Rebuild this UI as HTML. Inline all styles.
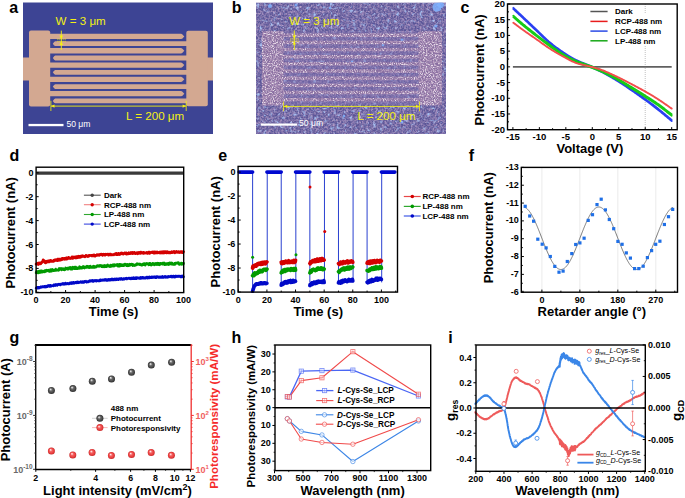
<!DOCTYPE html>
<html><head><meta charset="utf-8"><style>
html,body{margin:0;padding:0;background:#fff;overflow:hidden;}
svg{display:block;font-family:"Liberation Sans", sans-serif;}
</style></head><body>
<svg width="685" height="498" viewBox="0 0 685 498">
<rect width="685" height="498" fill="#fff"/>
<text x="9.30" y="13.20" font-size="16" font-weight="bold" text-anchor="start" fill="#000" >a</text>
<text x="231.80" y="13.10" font-size="16" font-weight="bold" text-anchor="start" fill="#000" >b</text>
<text x="460.50" y="12.50" font-size="16" font-weight="bold" text-anchor="start" fill="#000" >c</text>
<text x="9.50" y="161.40" font-size="16" font-weight="bold" text-anchor="start" fill="#000" >d</text>
<text x="218.20" y="161.30" font-size="16" font-weight="bold" text-anchor="start" fill="#000" >e</text>
<text x="468.70" y="161.10" font-size="16" font-weight="bold" text-anchor="start" fill="#000" >f</text>
<text x="9.40" y="342.50" font-size="16" font-weight="bold" text-anchor="start" fill="#000" >g</text>
<text x="231.60" y="342.80" font-size="16" font-weight="bold" text-anchor="start" fill="#000" >h</text>
<text x="448.30" y="342.80" font-size="16" font-weight="bold" text-anchor="start" fill="#000" >i</text>
<g>
<rect x="23.00" y="2.50" width="190.00" height="131.50" fill="#3d4494" />
<rect x="23.00" y="57.50" width="7.00" height="23.00" fill="#d3a891" />
<rect x="206.00" y="57.50" width="7.00" height="23.00" fill="#d3a891" />
<rect x="29.00" y="30.50" width="21.20" height="76.00" fill="#d3a891" rx="2"/>
<rect x="186.30" y="30.80" width="21.50" height="75.50" fill="#d3a891" rx="2"/>
<path d="M49,33.80 H181.2 Q182.2,34.00 184.3,36.45 Q182.2,38.90 181.2,39.10 H49 Z" fill="#d3a891"/>
<path d="M49,48.10 H181.2 Q182.2,48.30 184.3,50.75 Q182.2,53.20 181.2,53.40 H49 Z" fill="#d3a891"/>
<path d="M49,62.40 H181.2 Q182.2,62.60 184.3,65.05 Q182.2,67.50 181.2,67.70 H49 Z" fill="#d3a891"/>
<path d="M49,76.70 H181.2 Q182.2,76.90 184.3,79.35 Q182.2,81.80 181.2,82.00 H49 Z" fill="#d3a891"/>
<path d="M49,91.00 H181.2 Q182.2,91.20 184.3,93.65 Q182.2,96.10 181.2,96.30 H49 Z" fill="#d3a891"/>
<path d="M188,41.30 H55.2 Q54.2,41.50 52.8,43.70 Q54.2,45.90 55.2,46.10 H188 Z" fill="#d3a891"/>
<path d="M188,55.60 H55.2 Q54.2,55.80 52.8,58.00 Q54.2,60.20 55.2,60.40 H188 Z" fill="#d3a891"/>
<path d="M188,69.90 H55.2 Q54.2,70.10 52.8,72.30 Q54.2,74.50 55.2,74.70 H188 Z" fill="#d3a891"/>
<path d="M188,84.20 H55.2 Q54.2,84.40 52.8,86.60 Q54.2,88.80 55.2,89.00 H188 Z" fill="#d3a891"/>
<path d="M188,98.50 H55.2 Q54.2,98.70 52.8,100.90 Q54.2,103.10 55.2,103.30 H188 Z" fill="#d3a891"/>
<line x1="61.30" y1="30.60" x2="61.30" y2="50.00" stroke="#f4f014" stroke-width="0.9" />
<path d="M59.4,35.6 L61.3,39.2 L63.2,35.6 Z" fill="#f4f014"/>
<path d="M59.4,44.9 L61.3,41.3 L63.2,44.9 Z" fill="#f4f014"/>
<line x1="57.00" y1="39.20" x2="66.00" y2="39.20" stroke="#f4f014" stroke-width="0.6" stroke-dasharray="1.6,0.4"/>
<line x1="57.00" y1="41.30" x2="66.00" y2="41.30" stroke="#f4f014" stroke-width="0.6" stroke-dasharray="1.6,0.4"/>
<text x="55.60" y="24.50" font-size="11.6" font-weight="normal" text-anchor="start" fill="#f4f014" >W = 3 μm</text>
<line x1="51.00" y1="106.10" x2="186.20" y2="106.10" stroke="#f4f014" stroke-width="0.9" />
<line x1="50.90" y1="100.80" x2="50.90" y2="111.00" stroke="#f4f014" stroke-width="0.8" />
<line x1="186.20" y1="100.80" x2="186.20" y2="111.00" stroke="#f4f014" stroke-width="0.8" />
<path d="M51,106.1 L54.5,104.4 L54.5,107.8 Z" fill="#f4f014"/>
<path d="M186.1,106.1 L182.6,104.4 L182.6,107.8 Z" fill="#f4f014"/>
<text x="126.00" y="119.80" font-size="11.6" font-weight="normal" text-anchor="start" fill="#f4f014" >L = 200 μm</text>
<rect x="28.50" y="123.90" width="35.00" height="2.30" fill="#fff" />
<text x="66.40" y="126.80" font-size="8.6" font-weight="normal" text-anchor="start" fill="#fff" >50 μm</text>
</g>
<defs>
<filter id="spk" x="0" y="0" width="100%" height="100%">
<feTurbulence type="fractalNoise" baseFrequency="0.9" numOctaves="1" seed="3" result="t"/>
<feColorMatrix in="t" type="matrix" values="0 0 0 0 1  0 0 0 0 1  0 0 0 0 1  5 0 0 0 -2.55" result="w"/>
<feComposite in="w" in2="SourceGraphic" operator="in"/>
</filter>
<filter id="spk2" x="0" y="0" width="100%" height="100%">
<feTurbulence type="fractalNoise" baseFrequency="0.8" numOctaves="1" seed="8" result="t"/>
<feColorMatrix in="t" type="matrix" values="0 0 0 0 1  0 0 0 0 1  0 0 0 0 1  0 5 0 0 -2.75" result="w"/>
<feComposite in="w" in2="SourceGraphic" operator="in"/>
</filter>
<filter id="blu" x="0" y="0" width="100%" height="100%">
<feTurbulence type="fractalNoise" baseFrequency="0.3" numOctaves="2" seed="11" result="t"/>
<feColorMatrix in="t" type="matrix" values="0 0 0 0 0.42  0 0 0 0 0.62  0 0 0 0 1  0 4 0 0 -2.3" result="w"/>
<feComposite in="w" in2="SourceGraphic" operator="in"/>
</filter>
<filter id="drk" x="0" y="0" width="100%" height="100%">
<feTurbulence type="fractalNoise" baseFrequency="0.45" numOctaves="2" seed="21" result="t"/>
<feColorMatrix in="t" type="matrix" values="0 0 0 0 0.35  0 0 0 0 0.25  0 0 0 0 0.5  0 0 3 0 -1.35" result="w"/>
<feComposite in="w" in2="SourceGraphic" operator="in"/>
</filter>
<filter id="pnk" x="0" y="0" width="100%" height="100%">
<feTurbulence type="fractalNoise" baseFrequency="0.6" numOctaves="1" seed="5" result="t"/>
<feColorMatrix in="t" type="matrix" values="0 0 0 0 0.72  0 0 0 0 0.52  0 0 0 0 0.68  3 0 0 0 -1.2" result="w"/>
<feComposite in="w" in2="SourceGraphic" operator="in"/>
</filter>
<clipPath id="cb"><rect x="256" y="2.5" width="190" height="131.5"/></clipPath>
<clipPath id="cel"><rect x="262" y="31.3" width="21.5" height="74"/><rect x="418.5" y="31.3" width="23.5" height="74"/><rect x="283" y="33.60" width="136" height="3.4"/><rect x="283" y="40.75" width="136" height="3.4"/><rect x="283" y="47.90" width="136" height="3.4"/><rect x="283" y="55.05" width="136" height="3.4"/><rect x="283" y="62.20" width="136" height="3.4"/><rect x="283" y="69.35" width="136" height="3.4"/><rect x="283" y="76.50" width="136" height="3.4"/><rect x="283" y="83.65" width="136" height="3.4"/><rect x="283" y="90.80" width="136" height="3.4"/><rect x="283" y="97.95" width="136" height="3.4"/></clipPath>
</defs>
<g clip-path="url(#cb)">
<rect x="256.00" y="2.50" width="190.00" height="131.50" fill="#5a5598" />
<rect x="256.00" y="2.50" width="190.00" height="131.50" fill="#fff" filter="url(#drk)" opacity="0.9"/>
<rect x="256.00" y="2.50" width="190.00" height="131.50" fill="#fff" filter="url(#pnk)" opacity="0.38"/>
<rect x="256.00" y="2.50" width="190.00" height="131.50" fill="#fff" filter="url(#blu)" opacity="0.85"/>
<rect x="256.00" y="2.50" width="190.00" height="131.50" fill="#fff" filter="url(#spk2)" opacity="0.2"/>
<rect x="283.00" y="31.50" width="136.00" height="73.50" fill="#8272ae" opacity="0.45"/>
<circle cx="437" cy="7" r="4.5" fill="#7fb2ff" opacity="0.85"/>
<circle cx="441" cy="5" r="3" fill="#7fb2ff" opacity="0.85"/>
<circle cx="270" cy="6" r="2" fill="#7fb2ff" opacity="0.85"/>
<circle cx="296" cy="5" r="1.5" fill="#7fb2ff" opacity="0.85"/>
<circle cx="330" cy="8" r="1.2" fill="#7fb2ff" opacity="0.85"/>
<circle cx="383" cy="45" r="1.3" fill="#7fb2ff" opacity="0.85"/>
<circle cx="402" cy="40" r="1.5" fill="#7fb2ff" opacity="0.85"/>
<circle cx="352" cy="62" r="1.2" fill="#7fb2ff" opacity="0.85"/>
<circle cx="292" cy="58" r="1.4" fill="#7fb2ff" opacity="0.85"/>
<circle cx="402" cy="122" r="1.5" fill="#7fb2ff" opacity="0.85"/>
<circle cx="344" cy="116" r="1.2" fill="#7fb2ff" opacity="0.85"/>
<circle cx="276" cy="100" r="1.2" fill="#7fb2ff" opacity="0.85"/>
<circle cx="436" cy="26" r="1.5" fill="#7fb2ff" opacity="0.85"/>
<circle cx="425" cy="58" r="1.3" fill="#7fb2ff" opacity="0.85"/>
<g clip-path="url(#cel)">
<rect x="256.00" y="2.50" width="190.00" height="131.50" fill="#8a70a2" />
<rect x="256.00" y="2.50" width="190.00" height="131.50" fill="#fff" filter="url(#spk)" opacity="0.8"/>
<rect x="256.00" y="2.50" width="190.00" height="131.50" fill="#fff" filter="url(#pnk)" opacity="0.6"/>
</g>
</g>
<line x1="294.30" y1="30.50" x2="294.30" y2="50.00" stroke="#f4f014" stroke-width="0.9" />
<path d="M292.6,35.6 L294.3,39 L296,35.6 Z" fill="#f4f014"/>
<path d="M292.6,44.6 L294.3,41.2 L296,44.6 Z" fill="#f4f014"/>
<line x1="290.00" y1="39.00" x2="299.00" y2="39.00" stroke="#f4f014" stroke-width="0.6" stroke-dasharray="1.6,0.4"/>
<line x1="290.00" y1="41.20" x2="299.00" y2="41.20" stroke="#f4f014" stroke-width="0.6" stroke-dasharray="1.6,0.4"/>
<text x="289.20" y="24.60" font-size="11.6" font-weight="normal" text-anchor="start" fill="#f4f014" >W = 3 μm</text>
<line x1="283.60" y1="106.40" x2="419.50" y2="106.40" stroke="#f4f014" stroke-width="0.9" />
<line x1="283.60" y1="101.50" x2="283.60" y2="111.20" stroke="#f4f014" stroke-width="0.8" />
<line x1="419.50" y1="101.50" x2="419.50" y2="111.20" stroke="#f4f014" stroke-width="0.8" />
<path d="M283.7,106.4 L287.2,104.7 L287.2,108.1 Z" fill="#f4f014"/>
<path d="M419.4,106.4 L415.9,104.7 L415.9,108.1 Z" fill="#f4f014"/>
<text x="357.40" y="119.90" font-size="11.6" font-weight="normal" text-anchor="start" fill="#f4f014" >L = 200 μm</text>
<rect x="260.70" y="123.50" width="36.40" height="2.20" fill="#fff" />
<text x="299.00" y="126.40" font-size="8.6" font-weight="normal" text-anchor="start" fill="#fff" >50 μm</text>
<line x1="645.23" y1="4.00" x2="645.23" y2="129.70" stroke="#b0b0b0" stroke-width="0.8" stroke-dasharray="1,1"/>
<rect x="586.00" y="13.00" width="86.00" height="33.00" fill="#fff" />
<line x1="512.90" y1="66.85" x2="671.69" y2="66.85" stroke="#606060" stroke-width="1.6" />
<polyline points="513.30,9.00 513.79,9.46 514.26,9.91 514.74,10.35 515.21,10.79 515.67,11.22 516.13,11.66 516.59,12.09 517.06,12.52 517.52,12.96 517.99,13.39 518.46,13.84 518.94,14.28 519.42,14.74 519.91,15.20 520.41,15.67 520.92,16.15 521.45,16.64 521.98,17.15 522.53,17.67 523.10,18.20 523.68,18.75 524.28,19.32 524.90,19.90 525.52,20.49 526.16,21.10 526.81,21.71 527.47,22.33 528.14,22.97 528.81,23.61 529.49,24.25 530.18,24.90 530.86,25.55 531.55,26.20 532.24,26.85 532.93,27.50 533.61,28.15 534.29,28.80 534.97,29.44 535.64,30.07 536.30,30.70 536.96,31.33 537.61,31.96 538.27,32.59 538.92,33.23 539.58,33.87 540.23,34.51 540.89,35.15 541.54,35.79 542.20,36.43 542.85,37.06 543.50,37.70 544.16,38.32 544.81,38.95 545.47,39.57 546.12,40.18 546.78,40.78 547.43,41.38 548.09,41.96 548.74,42.54 549.40,43.10 550.06,43.65 550.72,44.20 551.38,44.74 552.04,45.27 552.70,45.80 553.36,46.32 554.02,46.83 554.68,47.34 555.34,47.84 556.00,48.33 556.66,48.82 557.32,49.30 557.98,49.78 558.64,50.26 559.30,50.72 559.96,51.19 560.62,51.65 561.28,52.10 561.94,52.55 562.60,53.00 563.25,53.44 563.90,53.88 564.54,54.30 565.18,54.73 565.81,55.14 566.44,55.55 567.07,55.96 567.70,56.36 568.33,56.75 568.96,57.14 569.60,57.53 570.24,57.92 570.89,58.30 571.55,58.67 572.21,59.05 572.88,59.42 573.57,59.79 574.26,60.16 574.98,60.53 575.70,60.90 576.45,61.27 577.22,61.63 578.01,62.00 578.82,62.36 579.65,62.72 580.49,63.07 581.34,63.43 582.20,63.78 583.06,64.13 583.92,64.48 584.78,64.82 585.63,65.16 586.48,65.49 587.31,65.82 588.13,66.15 588.93,66.47 589.71,66.78 590.47,67.09 591.20,67.40 591.90,67.70 592.57,67.99 593.21,68.27 593.83,68.53 594.43,68.79 595.00,69.04 595.56,69.28 596.11,69.51 596.64,69.74 597.17,69.97 597.69,70.20 598.20,70.43 598.72,70.66 599.23,70.90 599.75,71.14 600.28,71.39 600.81,71.65 601.36,71.92 601.92,72.20 602.50,72.49 603.10,72.80 603.71,73.12 604.34,73.45 604.97,73.80 605.61,74.15 606.26,74.50 606.92,74.87 607.58,75.24 608.24,75.62 608.91,76.00 609.58,76.39 610.26,76.78 610.93,77.18 611.61,77.57 612.28,77.98 612.96,78.38 613.63,78.78 614.31,79.19 614.98,79.59 615.64,80.00 616.30,80.40 616.95,80.80 617.60,81.20 618.24,81.60 618.88,82.00 619.52,82.40 620.15,82.80 620.78,83.20 621.42,83.61 622.05,84.01 622.69,84.43 623.33,84.84 623.97,85.26 624.62,85.69 625.27,86.12 625.94,86.56 626.61,87.01 627.29,87.47 627.98,87.94 628.68,88.41 629.40,88.90 630.13,89.40 630.88,89.92 631.65,90.45 632.43,90.99 633.22,91.54 634.03,92.10 634.84,92.67 635.66,93.25 636.48,93.83 637.30,94.41 638.12,95.00 638.94,95.58 639.76,96.17 640.57,96.75 641.38,97.33 642.17,97.90 642.95,98.46 643.72,99.02 644.47,99.57 645.20,100.10 645.92,100.62 646.62,101.14 647.31,101.64 647.99,102.14 648.66,102.64 649.32,103.13 649.97,103.61 650.62,104.10 651.26,104.58 651.90,105.06 652.53,105.54 653.17,106.02 653.80,106.50 654.43,106.98 655.07,107.47 655.70,107.96 656.34,108.46 656.99,108.97 657.64,109.48 658.30,110.00 658.96,110.53 659.63,111.06 660.29,111.60 660.96,112.14 661.63,112.69 662.30,113.24 662.97,113.80 663.64,114.35 664.31,114.91 664.98,115.48 665.65,116.04 666.33,116.60 667.00,117.17 667.67,117.73 668.34,118.30 669.02,118.86 669.69,119.42 670.36,119.98 671.03,120.54 671.70,121.10" fill="none" stroke="#2a40f2" stroke-width="1.8" stroke-linejoin="round" stroke-linecap="round" stroke-linecap="butt"/>
<polyline points="513.30,7.80 513.79,8.26 514.26,8.71 514.74,9.15 515.21,9.59 515.67,10.02 516.13,10.46 516.59,10.89 517.06,11.32 517.52,11.76 517.99,12.19 518.46,12.64 518.94,13.08 519.42,13.54 519.91,14.00 520.41,14.47 520.92,14.95 521.45,15.44 521.98,15.95 522.53,16.47 523.10,17.00 523.68,17.55 524.28,18.12 524.90,18.70 525.52,19.29 526.16,19.90 526.81,20.51 527.47,21.13 528.14,21.77 528.81,22.41 529.49,23.05 530.18,23.70 530.86,24.35 531.55,25.00 532.24,25.65 532.93,26.30 533.61,26.95 534.29,27.60 534.97,28.24 535.64,28.87 536.30,29.50 536.96,30.13 537.61,30.76 538.27,31.39 538.92,32.03 539.58,32.67 540.23,33.31 540.89,33.95 541.54,34.59 542.20,35.23 542.85,35.86 543.50,36.50 544.16,37.12 544.81,37.75 545.47,38.37 546.12,38.98 546.78,39.58 547.43,40.18 548.09,40.76 548.74,41.34 549.40,41.90 550.06,42.45 550.72,43.00 551.38,43.54 552.04,44.07 552.70,44.60 553.36,45.12 554.02,45.63 554.68,46.14 555.34,46.64 556.00,47.13 556.66,47.62 557.32,48.10 557.98,48.58 558.64,49.06 559.30,49.52 559.96,49.99 560.62,50.45 561.28,50.90 561.94,51.35 562.60,51.80 563.25,52.24 563.90,52.68 564.54,53.10 565.18,53.53 565.81,53.94 566.44,54.35 567.07,54.76 567.70,55.16 568.33,55.55 568.96,55.94 569.60,56.33 570.24,56.72 570.89,57.10 571.55,57.47 572.21,57.85 572.88,58.22 573.57,58.59 574.26,58.96 574.98,59.33 575.70,59.70 576.45,60.07 577.22,60.43 578.01,60.80 578.82,61.16 579.65,61.52 580.49,61.87 581.34,62.23 582.20,62.58 583.06,62.93 583.92,63.27 584.78,63.62 585.63,63.96 586.48,64.29 587.31,64.62 588.13,64.95 588.93,65.27 589.71,65.58 590.47,65.89 591.20,66.20 591.90,66.50 592.57,66.79 593.21,67.07 593.83,67.33 594.43,67.59 595.00,67.84 595.56,68.08 596.11,68.31 596.64,68.54 597.17,68.77 597.69,69.00 598.20,69.23 598.72,69.46 599.23,69.70 599.75,69.94 600.28,70.19 600.81,70.45 601.36,70.72 601.92,71.00 602.50,71.29 603.10,71.60 603.71,71.92 604.34,72.25 604.97,72.60 605.61,72.95 606.26,73.30 606.92,73.67 607.58,74.04 608.24,74.42 608.91,74.80 609.58,75.19 610.26,75.58 610.93,75.98 611.61,76.37 612.28,76.78 612.96,77.18 613.63,77.58 614.31,77.99 614.98,78.39 615.64,78.80 616.30,79.20 616.95,79.60 617.60,80.00 618.24,80.40 618.88,80.80 619.52,81.20 620.15,81.60 620.78,82.00 621.42,82.41 622.05,82.81 622.69,83.23 623.33,83.64 623.97,84.06 624.62,84.49 625.27,84.92 625.94,85.36 626.61,85.81 627.29,86.27 627.98,86.74 628.68,87.21 629.40,87.70 630.13,88.20 630.88,88.72 631.65,89.25 632.43,89.79 633.22,90.34 634.03,90.90 634.84,91.47 635.66,92.05 636.48,92.63 637.30,93.21 638.12,93.80 638.94,94.38 639.76,94.97 640.57,95.55 641.38,96.13 642.17,96.70 642.95,97.26 643.72,97.82 644.47,98.37 645.20,98.90 645.92,99.42 646.62,99.94 647.31,100.44 647.99,100.94 648.66,101.44 649.32,101.93 649.97,102.41 650.62,102.90 651.26,103.38 651.90,103.86 652.53,104.34 653.17,104.82 653.80,105.30 654.43,105.78 655.07,106.27 655.70,106.76 656.34,107.26 656.99,107.77 657.64,108.28 658.30,108.80 658.96,109.33 659.63,109.86 660.29,110.40 660.96,110.94 661.63,111.49 662.30,112.04 662.97,112.60 663.64,113.15 664.31,113.71 664.98,114.27 665.65,114.84 666.33,115.40 667.00,115.97 667.67,116.53 668.34,117.10 669.02,117.66 669.69,118.22 670.36,118.78 671.03,119.34 671.70,119.90" fill="none" stroke="#2a40f2" stroke-width="1.8" stroke-linejoin="round" stroke-linecap="round" stroke-linecap="butt"/>
<polyline points="513.30,17.10 513.79,17.52 514.26,17.94 514.74,18.36 515.21,18.77 515.67,19.18 516.13,19.59 516.59,20.00 517.06,20.40 517.52,20.81 517.99,21.22 518.46,21.64 518.94,22.06 519.42,22.48 519.91,22.90 520.41,23.33 520.92,23.77 521.45,24.22 521.98,24.67 522.53,25.13 523.10,25.60 523.68,26.08 524.28,26.57 524.90,27.07 525.52,27.58 526.16,28.10 526.81,28.62 527.47,29.15 528.14,29.68 528.81,30.22 529.49,30.76 530.18,31.30 530.86,31.85 531.55,32.39 532.24,32.93 532.93,33.47 533.61,34.01 534.29,34.54 534.97,35.07 535.64,35.59 536.30,36.10 536.96,36.61 537.61,37.12 538.27,37.62 538.92,38.13 539.58,38.63 540.23,39.14 540.89,39.64 541.54,40.14 542.20,40.63 542.85,41.13 543.50,41.63 544.16,42.12 544.81,42.61 545.47,43.10 546.12,43.59 546.78,44.07 547.43,44.56 548.09,45.04 548.74,45.52 549.40,46.00 550.06,46.48 550.72,46.96 551.38,47.44 552.04,47.92 552.70,48.40 553.36,48.88 554.02,49.36 554.68,49.84 555.34,50.32 556.00,50.79 556.66,51.26 557.32,51.72 557.98,52.18 558.64,52.63 559.30,53.08 559.96,53.52 560.62,53.95 561.28,54.38 561.94,54.79 562.60,55.20 563.25,55.60 563.90,55.99 564.54,56.37 565.18,56.74 565.81,57.11 566.44,57.47 567.07,57.83 567.70,58.18 568.33,58.52 568.96,58.86 569.60,59.20 570.24,59.53 570.89,59.86 571.55,60.18 572.21,60.51 572.88,60.83 573.57,61.15 574.26,61.46 574.98,61.78 575.70,62.10 576.45,62.42 577.22,62.73 578.01,63.04 578.82,63.35 579.65,63.66 580.49,63.96 581.34,64.26 582.20,64.56 583.06,64.85 583.92,65.14 584.78,65.43 585.63,65.72 586.48,66.00 587.31,66.28 588.13,66.56 588.93,66.83 589.71,67.11 590.47,67.37 591.20,67.64 591.90,67.90 592.57,68.15 593.21,68.40 593.83,68.63 594.43,68.86 595.00,69.08 595.56,69.30 596.11,69.51 596.64,69.72 597.17,69.93 597.69,70.14 598.20,70.35 598.72,70.56 599.23,70.78 599.75,71.00 600.28,71.22 600.81,71.46 601.36,71.70 601.92,71.96 602.50,72.22 603.10,72.50 603.71,72.79 604.34,73.09 604.97,73.39 605.61,73.70 606.26,74.02 606.92,74.34 607.58,74.67 608.24,75.01 608.91,75.35 609.58,75.69 610.26,76.04 610.93,76.40 611.61,76.75 612.28,77.11 612.96,77.47 613.63,77.83 614.31,78.20 614.98,78.57 615.64,78.93 616.30,79.30 616.95,79.67 617.60,80.04 618.24,80.41 618.88,80.78 619.52,81.15 620.15,81.53 620.78,81.91 621.42,82.29 622.05,82.67 622.69,83.06 623.33,83.45 623.97,83.85 624.62,84.25 625.27,84.66 625.94,85.07 626.61,85.48 627.29,85.90 627.98,86.33 628.68,86.76 629.40,87.20 630.13,87.65 630.88,88.11 631.65,88.58 632.43,89.06 633.22,89.54 634.03,90.04 634.84,90.54 635.66,91.04 636.48,91.55 637.30,92.06 638.12,92.57 638.94,93.08 639.76,93.58 640.57,94.09 641.38,94.59 642.17,95.09 642.95,95.58 643.72,96.06 644.47,96.53 645.20,97.00 645.92,97.46 646.62,97.90 647.31,98.34 647.99,98.77 648.66,99.20 649.32,99.62 649.97,100.04 650.62,100.45 651.26,100.86 651.90,101.27 652.53,101.69 653.17,102.10 653.80,102.52 654.43,102.94 655.07,103.37 655.70,103.80 656.34,104.23 656.99,104.68 657.64,105.14 658.30,105.60 658.96,106.07 659.63,106.56 660.29,107.04 660.96,107.54 661.63,108.04 662.30,108.54 662.97,109.05 663.64,109.56 664.31,110.08 664.98,110.60 665.65,111.12 666.33,111.64 667.00,112.17 667.67,112.69 668.34,113.21 669.02,113.73 669.69,114.25 670.36,114.77 671.03,115.29 671.70,115.80" fill="none" stroke="#16cc16" stroke-width="1.8" stroke-linejoin="round" stroke-linecap="round" stroke-linecap="butt"/>
<polyline points="513.30,15.60 513.79,16.02 514.26,16.44 514.74,16.86 515.21,17.27 515.67,17.68 516.13,18.09 516.59,18.50 517.06,18.90 517.52,19.31 517.99,19.72 518.46,20.14 518.94,20.56 519.42,20.98 519.91,21.40 520.41,21.83 520.92,22.27 521.45,22.72 521.98,23.17 522.53,23.63 523.10,24.10 523.68,24.58 524.28,25.07 524.90,25.57 525.52,26.08 526.16,26.60 526.81,27.12 527.47,27.65 528.14,28.18 528.81,28.72 529.49,29.26 530.18,29.80 530.86,30.35 531.55,30.89 532.24,31.43 532.93,31.97 533.61,32.51 534.29,33.04 534.97,33.57 535.64,34.09 536.30,34.60 536.96,35.11 537.61,35.62 538.27,36.12 538.92,36.63 539.58,37.13 540.23,37.64 540.89,38.14 541.54,38.64 542.20,39.13 542.85,39.63 543.50,40.13 544.16,40.62 544.81,41.11 545.47,41.60 546.12,42.09 546.78,42.57 547.43,43.06 548.09,43.54 548.74,44.02 549.40,44.50 550.06,44.98 550.72,45.46 551.38,45.94 552.04,46.42 552.70,46.90 553.36,47.38 554.02,47.86 554.68,48.34 555.34,48.82 556.00,49.29 556.66,49.76 557.32,50.22 557.98,50.68 558.64,51.13 559.30,51.58 559.96,52.02 560.62,52.45 561.28,52.88 561.94,53.29 562.60,53.70 563.25,54.10 563.90,54.49 564.54,54.87 565.18,55.24 565.81,55.61 566.44,55.97 567.07,56.33 567.70,56.68 568.33,57.02 568.96,57.36 569.60,57.70 570.24,58.03 570.89,58.36 571.55,58.68 572.21,59.01 572.88,59.33 573.57,59.65 574.26,59.96 574.98,60.28 575.70,60.60 576.45,60.92 577.22,61.23 578.01,61.54 578.82,61.85 579.65,62.16 580.49,62.46 581.34,62.76 582.20,63.06 583.06,63.35 583.92,63.64 584.78,63.93 585.63,64.22 586.48,64.50 587.31,64.78 588.13,65.06 588.93,65.33 589.71,65.61 590.47,65.87 591.20,66.14 591.90,66.40 592.57,66.65 593.21,66.90 593.83,67.13 594.43,67.36 595.00,67.58 595.56,67.80 596.11,68.01 596.64,68.22 597.17,68.43 597.69,68.64 598.20,68.85 598.72,69.06 599.23,69.28 599.75,69.50 600.28,69.72 600.81,69.96 601.36,70.20 601.92,70.46 602.50,70.72 603.10,71.00 603.71,71.29 604.34,71.59 604.97,71.89 605.61,72.20 606.26,72.52 606.92,72.84 607.58,73.17 608.24,73.51 608.91,73.85 609.58,74.19 610.26,74.54 610.93,74.90 611.61,75.25 612.28,75.61 612.96,75.97 613.63,76.33 614.31,76.70 614.98,77.07 615.64,77.43 616.30,77.80 616.95,78.17 617.60,78.54 618.24,78.91 618.88,79.28 619.52,79.65 620.15,80.03 620.78,80.41 621.42,80.79 622.05,81.17 622.69,81.56 623.33,81.95 623.97,82.35 624.62,82.75 625.27,83.16 625.94,83.57 626.61,83.98 627.29,84.40 627.98,84.83 628.68,85.26 629.40,85.70 630.13,86.15 630.88,86.61 631.65,87.08 632.43,87.56 633.22,88.04 634.03,88.54 634.84,89.04 635.66,89.54 636.48,90.05 637.30,90.56 638.12,91.07 638.94,91.58 639.76,92.08 640.57,92.59 641.38,93.09 642.17,93.59 642.95,94.08 643.72,94.56 644.47,95.03 645.20,95.50 645.92,95.96 646.62,96.40 647.31,96.84 647.99,97.27 648.66,97.70 649.32,98.12 649.97,98.54 650.62,98.95 651.26,99.36 651.90,99.77 652.53,100.19 653.17,100.60 653.80,101.02 654.43,101.44 655.07,101.87 655.70,102.30 656.34,102.73 656.99,103.18 657.64,103.64 658.30,104.10 658.96,104.57 659.63,105.06 660.29,105.54 660.96,106.04 661.63,106.54 662.30,107.04 662.97,107.55 663.64,108.06 664.31,108.58 664.98,109.10 665.65,109.62 666.33,110.14 667.00,110.67 667.67,111.19 668.34,111.71 669.02,112.23 669.69,112.75 670.36,113.27 671.03,113.79 671.70,114.30" fill="none" stroke="#16cc16" stroke-width="1.8" stroke-linejoin="round" stroke-linecap="round" stroke-linecap="butt"/>
<polyline points="513.30,22.70 513.79,23.06 514.26,23.42 514.74,23.78 515.21,24.13 515.67,24.48 516.13,24.83 516.59,25.18 517.06,25.53 517.52,25.88 517.99,26.23 518.46,26.59 518.94,26.94 519.42,27.30 519.91,27.67 520.41,28.04 520.92,28.42 521.45,28.80 521.98,29.19 522.53,29.59 523.10,30.00 523.68,30.42 524.28,30.84 524.90,31.28 525.52,31.72 526.16,32.17 526.81,32.62 527.47,33.08 528.14,33.54 528.81,34.01 529.49,34.48 530.18,34.95 530.86,35.43 531.55,35.90 532.24,36.38 532.93,36.86 533.61,37.33 534.29,37.80 534.97,38.27 535.64,38.74 536.30,39.20 536.96,39.66 537.61,40.13 538.27,40.59 538.92,41.06 539.58,41.53 540.23,42.00 540.89,42.48 541.54,42.95 542.20,43.42 542.85,43.89 543.50,44.36 544.16,44.82 544.81,45.28 545.47,45.74 546.12,46.20 546.78,46.65 547.43,47.10 548.09,47.54 548.74,47.97 549.40,48.40 550.06,48.82 550.72,49.24 551.38,49.66 552.04,50.07 552.70,50.48 553.36,50.88 554.02,51.28 554.68,51.68 555.34,52.07 556.00,52.46 556.66,52.85 557.32,53.23 557.98,53.61 558.64,53.99 559.30,54.37 559.96,54.74 560.62,55.11 561.28,55.47 561.94,55.84 562.60,56.20 563.25,56.56 563.90,56.92 564.54,57.28 565.18,57.64 565.81,57.99 566.44,58.34 567.07,58.69 567.70,59.04 568.33,59.39 568.96,59.73 569.60,60.06 570.24,60.39 570.89,60.72 571.55,61.03 572.21,61.35 572.88,61.65 573.57,61.95 574.26,62.24 574.98,62.53 575.70,62.80 576.45,63.06 577.22,63.32 578.01,63.57 578.82,63.80 579.65,64.04 580.49,64.26 581.34,64.48 582.20,64.69 583.06,64.89 583.92,65.09 584.78,65.29 585.63,65.49 586.48,65.68 587.31,65.87 588.13,66.06 588.93,66.24 589.71,66.43 590.47,66.62 591.20,66.81 591.90,67.00 592.57,67.19 593.21,67.37 593.83,67.54 594.43,67.71 595.00,67.87 595.56,68.03 596.11,68.18 596.64,68.34 597.17,68.49 597.69,68.64 598.20,68.80 598.72,68.96 599.23,69.13 599.75,69.30 600.28,69.47 600.81,69.66 601.36,69.85 601.92,70.06 602.50,70.27 603.10,70.50 603.71,70.74 604.34,70.99 604.97,71.25 605.61,71.52 606.26,71.79 606.92,72.07 607.58,72.36 608.24,72.65 608.91,72.95 609.58,73.26 610.26,73.56 610.93,73.87 611.61,74.19 612.28,74.50 612.96,74.82 613.63,75.14 614.31,75.45 614.98,75.77 615.64,76.09 616.30,76.40 616.95,76.71 617.60,77.02 618.24,77.33 618.88,77.64 619.52,77.96 620.15,78.27 620.78,78.58 621.42,78.90 622.05,79.22 622.69,79.54 623.33,79.86 623.97,80.19 624.62,80.52 625.27,80.86 625.94,81.20 626.61,81.55 627.29,81.90 627.98,82.26 628.68,82.63 629.40,83.00 630.13,83.38 630.88,83.78 631.65,84.18 632.43,84.59 633.22,85.01 634.03,85.43 634.84,85.86 635.66,86.29 636.48,86.73 637.30,87.17 638.12,87.61 638.94,88.05 639.76,88.49 640.57,88.93 641.38,89.37 642.17,89.81 642.95,90.24 643.72,90.67 644.47,91.09 645.20,91.50 645.92,91.91 646.62,92.31 647.31,92.71 647.99,93.10 648.66,93.49 649.32,93.87 649.97,94.26 650.62,94.64 651.26,95.02 651.90,95.41 652.53,95.79 653.17,96.18 653.80,96.56 654.43,96.95 655.07,97.35 655.70,97.75 656.34,98.15 656.99,98.56 657.64,98.98 658.30,99.40 658.96,99.83 659.63,100.27 660.29,100.71 660.96,101.16 661.63,101.61 662.30,102.06 662.97,102.52 663.64,102.99 664.31,103.45 664.98,103.92 665.65,104.39 666.33,104.86 667.00,105.33 667.67,105.80 668.34,106.27 669.02,106.74 669.69,107.21 670.36,107.67 671.03,108.14 671.70,108.60" fill="none" stroke="#f44c4c" stroke-width="1.9" stroke-linejoin="round" stroke-linecap="round" stroke-linecap="butt"/>
<rect x="507.50" y="4.00" width="169.70" height="125.70" fill="none" stroke="#000" stroke-width="1.4"/>
<line x1="512.90" y1="129.70" x2="512.90" y2="127.10" stroke="#000" stroke-width="1" />
<text x="512.90" y="140.20" font-size="9.5" font-weight="bold" text-anchor="middle" fill="#000" >-15</text>
<line x1="539.37" y1="129.70" x2="539.37" y2="127.10" stroke="#000" stroke-width="1" />
<text x="539.37" y="140.20" font-size="9.5" font-weight="bold" text-anchor="middle" fill="#000" >-10</text>
<line x1="565.83" y1="129.70" x2="565.83" y2="127.10" stroke="#000" stroke-width="1" />
<text x="565.83" y="140.20" font-size="9.5" font-weight="bold" text-anchor="middle" fill="#000" >-5</text>
<line x1="592.29" y1="129.70" x2="592.29" y2="127.10" stroke="#000" stroke-width="1" />
<text x="592.29" y="140.20" font-size="9.5" font-weight="bold" text-anchor="middle" fill="#000" >0</text>
<line x1="618.76" y1="129.70" x2="618.76" y2="127.10" stroke="#000" stroke-width="1" />
<text x="618.76" y="140.20" font-size="9.5" font-weight="bold" text-anchor="middle" fill="#000" >5</text>
<line x1="645.23" y1="129.70" x2="645.23" y2="127.10" stroke="#000" stroke-width="1" />
<text x="645.23" y="140.20" font-size="9.5" font-weight="bold" text-anchor="middle" fill="#000" >10</text>
<line x1="671.69" y1="129.70" x2="671.69" y2="127.10" stroke="#000" stroke-width="1" />
<text x="671.69" y="140.20" font-size="9.5" font-weight="bold" text-anchor="middle" fill="#000" >15</text>
<line x1="526.13" y1="129.70" x2="526.13" y2="128.20" stroke="#000" stroke-width="1" />
<line x1="552.60" y1="129.70" x2="552.60" y2="128.20" stroke="#000" stroke-width="1" />
<line x1="579.06" y1="129.70" x2="579.06" y2="128.20" stroke="#000" stroke-width="1" />
<line x1="605.53" y1="129.70" x2="605.53" y2="128.20" stroke="#000" stroke-width="1" />
<line x1="631.99" y1="129.70" x2="631.99" y2="128.20" stroke="#000" stroke-width="1" />
<line x1="658.46" y1="129.70" x2="658.46" y2="128.20" stroke="#000" stroke-width="1" />
<line x1="507.50" y1="129.70" x2="510.10" y2="129.70" stroke="#000" stroke-width="1" />
<text x="505.00" y="132.70" font-size="9.5" font-weight="bold" text-anchor="end" fill="#000" >-20</text>
<line x1="507.50" y1="113.99" x2="510.10" y2="113.99" stroke="#000" stroke-width="1" />
<text x="505.00" y="116.99" font-size="9.5" font-weight="bold" text-anchor="end" fill="#000" >-15</text>
<line x1="507.50" y1="98.27" x2="510.10" y2="98.27" stroke="#000" stroke-width="1" />
<text x="505.00" y="101.27" font-size="9.5" font-weight="bold" text-anchor="end" fill="#000" >-10</text>
<line x1="507.50" y1="82.56" x2="510.10" y2="82.56" stroke="#000" stroke-width="1" />
<text x="505.00" y="85.56" font-size="9.5" font-weight="bold" text-anchor="end" fill="#000" >-5</text>
<line x1="507.50" y1="66.85" x2="510.10" y2="66.85" stroke="#000" stroke-width="1" />
<text x="505.00" y="69.85" font-size="9.5" font-weight="bold" text-anchor="end" fill="#000" >0</text>
<line x1="507.50" y1="51.14" x2="510.10" y2="51.14" stroke="#000" stroke-width="1" />
<text x="505.00" y="54.14" font-size="9.5" font-weight="bold" text-anchor="end" fill="#000" >5</text>
<line x1="507.50" y1="35.42" x2="510.10" y2="35.42" stroke="#000" stroke-width="1" />
<text x="505.00" y="38.42" font-size="9.5" font-weight="bold" text-anchor="end" fill="#000" >10</text>
<line x1="507.50" y1="19.71" x2="510.10" y2="19.71" stroke="#000" stroke-width="1" />
<text x="505.00" y="22.71" font-size="9.5" font-weight="bold" text-anchor="end" fill="#000" >15</text>
<line x1="507.50" y1="4.00" x2="510.10" y2="4.00" stroke="#000" stroke-width="1" />
<text x="505.00" y="7.00" font-size="9.5" font-weight="bold" text-anchor="end" fill="#000" >20</text>
<line x1="507.50" y1="121.84" x2="509.00" y2="121.84" stroke="#000" stroke-width="1" />
<line x1="507.50" y1="106.13" x2="509.00" y2="106.13" stroke="#000" stroke-width="1" />
<line x1="507.50" y1="90.42" x2="509.00" y2="90.42" stroke="#000" stroke-width="1" />
<line x1="507.50" y1="74.71" x2="509.00" y2="74.71" stroke="#000" stroke-width="1" />
<line x1="507.50" y1="58.99" x2="509.00" y2="58.99" stroke="#000" stroke-width="1" />
<line x1="507.50" y1="43.28" x2="509.00" y2="43.28" stroke="#000" stroke-width="1" />
<line x1="507.50" y1="27.57" x2="509.00" y2="27.57" stroke="#000" stroke-width="1" />
<line x1="507.50" y1="11.86" x2="509.00" y2="11.86" stroke="#000" stroke-width="1" />
<text x="589.90" y="153.00" font-size="13" font-weight="bold" text-anchor="middle" fill="#000" >Voltage (V)</text>
<text transform="translate(483.60,69.90) rotate(-90)" x="0" y="0" font-size="13" font-weight="bold" text-anchor="middle" fill="#000" >Photocurrent (nA)</text>
<line x1="590.40" y1="11.50" x2="607.60" y2="11.50" stroke="#555" stroke-width="1.5" />
<text x="615.00" y="14.40" font-size="8.0" font-weight="bold" text-anchor="start" fill="#000" >Dark</text>
<line x1="590.40" y1="21.40" x2="607.60" y2="21.40" stroke="#e81c1c" stroke-width="1.5" />
<text x="615.00" y="24.30" font-size="8.0" font-weight="bold" text-anchor="start" fill="#000" >RCP-488 nm</text>
<line x1="590.40" y1="31.10" x2="607.60" y2="31.10" stroke="#2a4ae6" stroke-width="1.5" />
<text x="615.00" y="34.00" font-size="8.0" font-weight="bold" text-anchor="start" fill="#000" >LCP-488 nm</text>
<line x1="590.40" y1="40.80" x2="607.60" y2="40.80" stroke="#18a818" stroke-width="1.5" />
<text x="615.00" y="43.70" font-size="8.0" font-weight="bold" text-anchor="start" fill="#000" >LP-488 nm</text>
<line x1="36.60" y1="173.15" x2="183.20" y2="173.15" stroke="#3a3a3a" stroke-width="3.3" />
<polyline points="36.10,264.13 36.47,263.84 36.84,263.66 37.21,263.32 37.58,263.57 37.94,263.17 38.31,264.57 38.68,263.75 39.05,262.86 39.42,263.27 39.79,262.76 40.16,263.99 40.53,263.31 40.89,263.59 41.26,263.01 41.63,262.21 42.00,262.47 42.37,261.57 42.74,261.07 43.11,259.82 43.48,260.10 43.84,261.33 44.21,260.66 44.58,262.28 44.95,262.07 45.32,262.81 45.69,262.94 46.06,261.41 46.43,262.44 46.79,262.35 47.16,260.99 47.53,261.10 47.90,262.00 48.27,260.80 48.64,261.43 49.01,261.13 49.38,261.85 49.74,260.54 50.11,260.89 50.48,260.36 50.85,260.41 51.22,261.33 51.59,261.16 51.96,261.42 52.33,261.38 52.69,261.45 53.06,260.98 53.43,260.41 53.80,261.35 54.17,260.15 54.54,260.66 54.91,260.64 55.28,259.72 55.64,260.22 56.01,260.43 56.38,260.09 56.75,259.66 57.12,260.68 57.49,259.08 57.86,260.61 58.23,259.33 58.59,259.11 58.96,260.44 59.33,259.09 59.70,259.73 60.07,259.32 60.44,260.21 60.81,260.09 61.18,259.81 61.54,258.46 61.91,259.67 62.28,258.68 62.65,258.33 63.02,258.25 63.39,259.20 63.76,259.12 64.12,258.78 64.49,258.31 64.86,259.37 65.23,258.25 65.60,258.11 65.97,257.96 66.34,259.28 66.71,257.71 67.08,259.08 67.44,258.62 67.81,258.11 68.18,257.55 68.55,258.47 68.92,257.44 69.29,258.02 69.66,258.36 70.03,258.31 70.39,258.49 70.76,258.61 71.13,258.44 71.50,257.49 71.87,256.93 72.24,258.28 72.61,258.42 72.97,256.81 73.34,257.52 73.71,257.69 74.08,257.92 74.45,257.28 74.82,256.85 75.19,257.42 75.56,257.44 75.93,258.01 76.29,256.52 76.66,257.96 77.03,257.14 77.40,256.53 77.77,257.67 78.14,256.62 78.51,256.21 78.88,256.71 79.24,256.40 79.61,257.50 79.98,256.91 80.35,257.35 80.72,256.15 81.09,257.03 81.46,256.72 81.83,255.77 82.19,255.98 82.56,255.73 82.93,256.57 83.30,256.47 83.67,256.03 84.04,256.41 84.41,256.69 84.78,256.47 85.14,256.86 85.51,256.44 85.88,255.38 86.25,255.39 86.62,255.91 86.99,256.09 87.36,256.33 87.72,256.71 88.09,256.37 88.46,255.48 88.83,255.30 89.20,256.12 89.57,255.37 89.94,255.36 90.31,255.46 90.68,255.48 91.04,255.28 91.41,255.92 91.78,255.31 92.15,255.99 92.52,255.61 92.89,255.11 93.26,255.21 93.62,255.84 93.99,254.72 94.36,255.19 94.73,255.27 95.10,256.19 95.47,255.27 95.84,255.73 96.21,255.00 96.58,255.32 96.94,254.70 97.31,254.95 97.68,254.67 98.05,255.40 98.42,254.87 98.79,254.69 99.16,254.51 99.53,255.28 99.89,254.43 100.26,254.36 100.63,254.63 101.00,254.13 101.37,254.13 101.74,254.84 102.11,254.79 102.47,255.38 102.84,254.23 103.21,254.03 103.58,254.78 103.95,254.39 104.32,254.32 104.69,254.28 105.06,255.19 105.43,254.15 105.79,254.46 106.16,254.29 106.53,254.67 106.90,254.31 107.27,254.04 107.64,254.24 108.01,254.08 108.38,255.21 108.74,254.97 109.11,254.48 109.48,254.10 109.85,254.80 110.22,254.00 110.59,254.07 110.96,255.03 111.33,254.29 111.69,254.68 112.06,254.95 112.43,254.79 112.80,254.46 113.17,254.67 113.54,254.63 113.91,254.87 114.28,254.13 114.64,254.25 115.01,253.85 115.38,253.86 115.75,254.43 116.12,253.30 116.49,254.79 116.86,254.09 117.22,254.28 117.59,254.04 117.96,254.52 118.33,253.30 118.70,254.05 119.07,254.59 119.44,253.61 119.81,254.46 120.18,253.69 120.54,254.01 120.91,253.59 121.28,252.94 121.65,253.16 122.02,253.81 122.39,253.13 122.76,253.40 123.12,253.84 123.49,254.20 123.86,253.42 124.23,253.46 124.60,252.78 124.97,252.75 125.34,253.33 125.71,253.75 126.08,252.82 126.44,254.30 126.81,254.11 127.18,253.32 127.55,253.23 127.92,254.00 128.29,253.17 128.66,252.72 129.03,253.56 129.39,253.45 129.76,253.78 130.13,253.66 130.50,252.50 130.87,253.48 131.24,252.49 131.61,252.56 131.97,253.07 132.34,253.62 132.71,252.40 133.08,253.20 133.45,253.32 133.82,253.46 134.19,252.34 134.56,253.15 134.93,253.48 135.29,253.14 135.66,253.73 136.03,252.88 136.40,253.16 136.77,253.40 137.14,252.57 137.51,252.48 137.88,253.83 138.24,252.94 138.61,253.36 138.98,252.25 139.35,252.49 139.72,253.37 140.09,253.32 140.46,253.50 140.83,252.09 141.19,253.24 141.56,252.71 141.93,252.92 142.30,252.62 142.67,252.68 143.04,252.43 143.41,253.46 143.78,252.38 144.14,253.14 144.51,252.74 144.88,253.05 145.25,253.11 145.62,252.71 145.99,252.81 146.36,252.97 146.72,252.31 147.09,252.56 147.46,253.48 147.83,253.11 148.20,252.75 148.57,251.97 148.94,252.01 149.31,252.57 149.68,253.45 150.04,252.16 150.41,252.74 150.78,252.48 151.15,252.25 151.52,252.37 151.89,252.61 152.26,251.88 152.62,252.75 152.99,252.73 153.36,251.95 153.73,253.04 154.10,252.86 154.47,251.96 154.84,253.23 155.21,251.93 155.58,252.15 155.94,252.58 156.31,252.82 156.68,251.98 157.05,251.76 157.42,253.03 157.79,252.46 158.16,252.33 158.53,252.41 158.89,252.68 159.26,252.97 159.63,252.24 160.00,251.85 160.37,253.09 160.74,252.81 161.11,251.81 161.48,251.85 161.84,252.06 162.21,253.12 162.58,251.94 162.95,251.51 163.32,251.47 163.69,251.95 164.06,253.04 164.43,251.70 164.79,252.74 165.16,252.02 165.53,251.50 165.90,251.89 166.27,252.85 166.64,252.58 167.01,251.52 167.38,252.80 167.74,252.02 168.11,252.34 168.48,252.76 168.85,251.98 169.22,252.94 169.59,252.83 169.96,252.37 170.32,252.87 170.69,252.89 171.06,252.02 171.43,251.73 171.80,251.50 172.17,252.73 172.54,252.23 172.91,252.42 173.28,251.94 173.64,252.11 174.01,251.36 174.38,252.29 174.75,252.82 175.12,251.74 175.49,252.65 175.86,251.84 176.22,252.04 176.59,251.36 176.96,251.95 177.33,251.83 177.70,252.42 178.07,251.93 178.44,252.43 178.81,251.59 179.18,251.97 179.54,252.61 179.91,252.44 180.28,252.20 180.65,251.58 181.02,252.51 181.39,251.61 181.76,251.70 182.12,252.65 182.49,251.67 182.86,252.63 183.23,252.57 183.60,251.78" fill="none" stroke="#d40000" stroke-width="2.6" stroke-linejoin="round" stroke-linecap="round" />
<polyline points="36.10,272.84 36.47,271.57 36.84,272.27 37.21,272.52 37.58,271.56 37.94,272.97 38.31,271.59 38.68,272.82 39.05,272.58 39.42,270.99 39.79,271.46 40.16,272.28 40.53,272.44 40.89,270.75 41.26,271.28 41.63,270.94 42.00,272.19 42.37,271.21 42.74,271.68 43.11,271.85 43.48,271.62 43.84,271.03 44.21,271.49 44.58,271.37 44.95,271.80 45.32,270.42 45.69,270.72 46.06,270.38 46.43,271.04 46.79,270.19 47.16,270.78 47.53,270.59 47.90,270.58 48.27,270.22 48.64,270.83 49.01,271.36 49.38,271.43 49.74,271.07 50.11,271.33 50.48,269.66 50.85,270.40 51.22,269.82 51.59,271.23 51.96,270.29 52.33,269.44 52.69,269.92 53.06,270.24 53.43,270.12 53.80,270.78 54.17,270.63 54.54,270.58 54.91,270.13 55.28,270.07 55.64,269.08 56.01,270.43 56.38,270.20 56.75,270.11 57.12,270.29 57.49,270.01 57.86,270.07 58.23,269.56 58.59,270.38 58.96,268.63 59.33,269.66 59.70,268.53 60.07,268.97 60.44,268.96 60.81,269.31 61.18,268.36 61.54,269.91 61.91,268.82 62.28,269.50 62.65,268.73 63.02,268.59 63.39,269.64 63.76,269.53 64.12,269.83 64.49,269.40 64.86,269.65 65.23,269.00 65.60,267.87 65.97,269.00 66.34,269.07 66.71,268.73 67.08,269.05 67.44,268.16 67.81,268.15 68.18,269.18 68.55,268.99 68.92,268.14 69.29,267.59 69.66,268.12 70.03,268.50 70.39,267.42 70.76,269.24 71.13,269.11 71.50,267.70 71.87,268.37 72.24,269.04 72.61,268.04 72.97,267.17 73.34,268.04 73.71,268.33 74.08,268.79 74.45,268.80 74.82,267.19 75.19,267.94 75.56,267.05 75.93,268.71 76.29,268.32 76.66,268.66 77.03,267.96 77.40,268.58 77.77,268.18 78.14,267.86 78.51,268.02 78.88,268.48 79.24,268.48 79.61,266.66 79.98,268.15 80.35,267.49 80.72,267.66 81.09,267.39 81.46,268.22 81.83,267.75 82.19,268.12 82.56,267.26 82.93,266.51 83.30,267.10 83.67,266.57 84.04,267.78 84.41,268.13 84.78,267.10 85.14,267.18 85.51,266.99 85.88,267.33 86.25,266.83 86.62,266.61 86.99,266.23 87.36,267.36 87.72,267.07 88.09,266.32 88.46,267.45 88.83,267.63 89.20,267.23 89.57,267.63 89.94,266.30 90.31,266.18 90.68,267.13 91.04,267.45 91.41,267.52 91.78,267.19 92.15,267.47 92.52,266.79 92.89,266.48 93.26,267.09 93.62,267.42 93.99,266.17 94.36,267.40 94.73,267.09 95.10,266.90 95.47,266.71 95.84,267.21 96.21,266.57 96.58,266.75 96.94,265.89 97.31,266.25 97.68,265.58 98.05,266.02 98.42,265.79 98.79,266.12 99.16,266.36 99.53,265.62 99.89,265.91 100.26,265.31 100.63,265.73 101.00,265.76 101.37,266.56 101.74,265.50 102.11,266.30 102.47,266.77 102.84,266.87 103.21,266.65 103.58,266.45 103.95,265.64 104.32,266.37 104.69,266.77 105.06,265.41 105.43,265.79 105.79,266.78 106.16,266.72 106.53,266.55 106.90,266.10 107.27,265.12 107.64,264.93 108.01,265.55 108.38,266.26 108.74,265.87 109.11,265.97 109.48,266.02 109.85,266.61 110.22,265.49 110.59,265.01 110.96,265.19 111.33,266.38 111.69,265.53 112.06,266.20 112.43,265.15 112.80,265.63 113.17,264.68 113.54,264.93 113.91,266.21 114.28,265.81 114.64,264.65 115.01,265.50 115.38,265.54 115.75,265.51 116.12,264.87 116.49,264.53 116.86,265.28 117.22,264.43 117.59,265.13 117.96,266.06 118.33,264.68 118.70,265.42 119.07,266.11 119.44,264.32 119.81,266.11 120.18,265.06 120.54,265.22 120.91,264.44 121.28,265.36 121.65,265.68 122.02,265.55 122.39,265.68 122.76,264.98 123.12,265.35 123.49,264.59 123.86,265.55 124.23,265.32 124.60,265.50 124.97,264.08 125.34,264.34 125.71,264.31 126.08,264.74 126.44,265.14 126.81,265.62 127.18,264.29 127.55,264.93 127.92,265.78 128.29,265.51 128.66,265.63 129.03,264.44 129.39,264.07 129.76,265.40 130.13,264.24 130.50,265.14 130.87,264.44 131.24,264.08 131.61,264.52 131.97,264.17 132.34,264.97 132.71,265.66 133.08,264.69 133.45,264.53 133.82,265.28 134.19,264.88 134.56,265.01 134.93,265.55 135.29,264.99 135.66,264.84 136.03,264.65 136.40,264.21 136.77,264.78 137.14,263.65 137.51,263.96 137.88,263.74 138.24,264.17 138.61,264.20 138.98,264.44 139.35,263.93 139.72,264.75 140.09,264.30 140.46,264.12 140.83,264.41 141.19,264.85 141.56,265.24 141.93,265.21 142.30,264.68 142.67,264.24 143.04,263.89 143.41,263.97 143.78,264.73 144.14,263.53 144.51,264.77 144.88,263.92 145.25,265.14 145.62,263.83 145.99,263.98 146.36,263.42 146.72,263.52 147.09,263.91 147.46,263.61 147.83,263.79 148.20,264.03 148.57,264.78 148.94,264.19 149.31,263.45 149.68,264.70 150.04,263.28 150.41,264.09 150.78,264.37 151.15,265.11 151.52,264.36 151.89,264.75 152.26,263.84 152.62,263.36 152.99,263.33 153.36,263.88 153.73,264.31 154.10,264.83 154.47,263.71 154.84,263.96 155.21,263.64 155.58,264.29 155.94,263.30 156.31,264.58 156.68,264.39 157.05,264.45 157.42,263.77 157.79,263.23 158.16,264.62 158.53,263.72 158.89,263.45 159.26,264.48 159.63,264.78 160.00,263.81 160.37,263.30 160.74,263.20 161.11,263.48 161.48,264.06 161.84,264.04 162.21,263.83 162.58,263.11 162.95,264.25 163.32,264.28 163.69,263.65 164.06,262.96 164.43,264.44 164.79,264.73 165.16,264.56 165.53,263.70 165.90,263.61 166.27,264.40 166.64,264.38 167.01,263.60 167.38,263.50 167.74,263.41 168.11,263.32 168.48,264.59 168.85,263.78 169.22,263.10 169.59,262.86 169.96,264.07 170.32,263.05 170.69,263.43 171.06,262.89 171.43,264.21 171.80,263.31 172.17,263.03 172.54,263.72 172.91,264.43 173.28,264.25 173.64,264.31 174.01,264.42 174.38,264.30 174.75,263.41 175.12,264.38 175.49,263.13 175.86,263.16 176.22,263.00 176.59,263.02 176.96,263.18 177.33,262.77 177.70,262.71 178.07,263.33 178.44,262.68 178.81,264.32 179.18,264.31 179.54,264.38 179.91,264.10 180.28,263.77 180.65,263.61 181.02,263.18 181.39,263.05 181.76,264.30 182.12,263.69 182.49,263.41 182.86,263.73 183.23,264.22 183.60,263.29" fill="none" stroke="#009a00" stroke-width="2.6" stroke-linejoin="round" stroke-linecap="round" />
<polyline points="36.10,288.15 36.47,287.72 36.84,287.88 37.21,287.26 37.58,287.21 37.94,288.20 38.31,287.31 38.68,287.30 39.05,287.74 39.42,287.90 39.79,287.40 40.16,287.49 40.53,286.97 40.89,286.70 41.26,287.28 41.63,287.33 42.00,287.02 42.37,286.72 42.74,286.55 43.11,286.75 43.48,287.03 43.84,286.92 44.21,286.25 44.58,286.59 44.95,287.09 45.32,286.59 45.69,286.75 46.06,286.18 46.43,286.84 46.79,286.54 47.16,286.70 47.53,286.19 47.90,285.53 48.27,286.00 48.64,286.13 49.01,285.42 49.38,286.38 49.74,286.01 50.11,285.41 50.48,286.32 50.85,285.36 51.22,285.79 51.59,286.15 51.96,285.81 52.33,285.51 52.69,285.55 53.06,285.34 53.43,285.84 53.80,285.59 54.17,284.64 54.54,285.22 54.91,285.14 55.28,285.55 55.64,285.27 56.01,284.41 56.38,284.68 56.75,284.85 57.12,285.34 57.49,284.89 57.86,284.38 58.23,284.74 58.59,284.50 58.96,284.08 59.33,284.34 59.70,284.31 60.07,284.98 60.44,284.94 60.81,284.01 61.18,284.38 61.54,283.79 61.91,283.80 62.28,283.65 62.65,284.24 63.02,283.45 63.39,283.70 63.76,283.49 64.12,284.33 64.49,283.53 64.86,283.92 65.23,283.22 65.60,283.15 65.97,284.03 66.34,283.74 66.71,283.88 67.08,283.60 67.44,283.77 67.81,283.28 68.18,283.88 68.55,283.78 68.92,283.40 69.29,283.81 69.66,283.40 70.03,282.74 70.39,282.72 70.76,283.50 71.13,283.67 71.50,282.66 71.87,282.46 72.24,282.85 72.61,283.37 72.97,283.21 73.34,282.35 73.71,282.29 74.08,283.33 74.45,283.11 74.82,282.78 75.19,282.93 75.56,282.31 75.93,282.73 76.29,282.21 76.66,282.91 77.03,282.44 77.40,281.85 77.77,282.14 78.14,282.83 78.51,282.77 78.88,282.10 79.24,282.38 79.61,282.35 79.98,282.18 80.35,282.02 80.72,281.53 81.09,282.36 81.46,281.93 81.83,282.26 82.19,281.88 82.56,281.63 82.93,282.30 83.30,281.85 83.67,281.55 84.04,282.35 84.41,281.40 84.78,281.79 85.14,281.65 85.51,281.49 85.88,281.24 86.25,282.08 86.62,281.52 86.99,282.04 87.36,281.59 87.72,281.60 88.09,281.95 88.46,281.59 88.83,281.38 89.20,281.10 89.57,280.74 89.94,281.37 90.31,281.15 90.68,280.90 91.04,280.60 91.41,280.55 91.78,280.47 92.15,281.26 92.52,281.39 92.89,280.44 93.26,281.43 93.62,280.96 93.99,280.58 94.36,280.80 94.73,280.94 95.10,280.27 95.47,280.98 95.84,280.65 96.21,280.29 96.58,281.08 96.94,280.80 97.31,280.60 97.68,280.48 98.05,280.88 98.42,280.56 98.79,281.00 99.16,280.94 99.53,280.60 99.89,280.81 100.26,279.80 100.63,280.61 101.00,280.57 101.37,279.93 101.74,279.95 102.11,280.50 102.47,279.79 102.84,280.01 103.21,280.26 103.58,279.95 103.95,280.38 104.32,280.33 104.69,279.57 105.06,280.07 105.43,279.49 105.79,280.32 106.16,280.34 106.53,280.42 106.90,279.57 107.27,279.76 107.64,280.39 108.01,280.32 108.38,279.37 108.74,279.73 109.11,279.26 109.48,280.23 109.85,279.54 110.22,280.08 110.59,279.33 110.96,279.44 111.33,279.41 111.69,279.86 112.06,278.96 112.43,279.94 112.80,279.97 113.17,279.20 113.54,279.89 113.91,279.89 114.28,279.40 114.64,279.15 115.01,278.83 115.38,279.01 115.75,279.77 116.12,279.06 116.49,278.80 116.86,279.64 117.22,278.86 117.59,279.43 117.96,279.35 118.33,279.69 118.70,278.76 119.07,279.03 119.44,278.54 119.81,279.04 120.18,279.39 120.54,279.29 120.91,279.21 121.28,278.38 121.65,279.24 122.02,279.36 122.39,279.02 122.76,279.32 123.12,278.89 123.49,278.63 123.86,278.58 124.23,279.12 124.60,279.14 124.97,278.70 125.34,278.45 125.71,278.71 126.08,278.54 126.44,278.12 126.81,279.01 127.18,278.84 127.55,278.55 127.92,278.48 128.29,278.03 128.66,278.42 129.03,278.27 129.39,278.54 129.76,278.08 130.13,278.00 130.50,278.63 130.87,278.83 131.24,278.63 131.61,278.49 131.97,277.84 132.34,278.57 132.71,278.11 133.08,278.08 133.45,277.68 133.82,278.67 134.19,277.87 134.56,278.37 134.93,278.63 135.29,277.98 135.66,277.70 136.03,278.00 136.40,278.62 136.77,277.49 137.14,278.18 137.51,277.86 137.88,277.74 138.24,278.27 138.61,278.08 138.98,278.15 139.35,278.42 139.72,278.44 140.09,277.64 140.46,277.99 140.83,277.42 141.19,278.37 141.56,278.06 141.93,278.19 142.30,277.26 142.67,277.43 143.04,277.28 143.41,277.73 143.78,278.20 144.14,277.81 144.51,278.02 144.88,278.24 145.25,277.58 145.62,277.89 145.99,278.09 146.36,277.59 146.72,277.07 147.09,277.04 147.46,277.60 147.83,278.02 148.20,277.21 148.57,277.97 148.94,277.45 149.31,277.98 149.68,276.88 150.04,277.40 150.41,277.51 150.78,277.69 151.15,277.34 151.52,276.82 151.89,277.46 152.26,277.70 152.62,277.32 152.99,276.83 153.36,277.45 153.73,277.14 154.10,276.78 154.47,277.47 154.84,276.88 155.21,277.20 155.58,277.65 155.94,277.74 156.31,276.67 156.68,277.22 157.05,277.23 157.42,276.65 157.79,277.05 158.16,277.12 158.53,277.37 158.89,276.80 159.26,277.37 159.63,277.10 160.00,276.74 160.37,276.91 160.74,277.46 161.11,277.37 161.48,276.76 161.84,276.71 162.21,277.45 162.58,276.36 162.95,277.38 163.32,277.33 163.69,277.41 164.06,276.97 164.43,276.75 164.79,276.45 165.16,277.27 165.53,276.61 165.90,277.31 166.27,276.73 166.64,277.11 167.01,276.97 167.38,277.32 167.74,276.51 168.11,277.21 168.48,276.44 168.85,276.93 169.22,276.62 169.59,276.55 169.96,276.72 170.32,276.24 170.69,276.18 171.06,276.93 171.43,276.85 171.80,276.19 172.17,277.07 172.54,276.71 172.91,276.71 173.28,276.02 173.64,277.03 174.01,276.39 174.38,276.25 174.75,276.27 175.12,277.13 175.49,275.99 175.86,276.74 176.22,276.08 176.59,276.30 176.96,276.57 177.33,276.06 177.70,276.25 178.07,276.64 178.44,276.16 178.81,276.42 179.18,276.16 179.54,276.27 179.91,276.04 180.28,276.79 180.65,276.38 181.02,276.96 181.39,276.00 181.76,276.01 182.12,275.92 182.49,276.86 182.86,276.26 183.23,276.32 183.60,276.74" fill="none" stroke="#0008c8" stroke-width="2.6" stroke-linejoin="round" stroke-linecap="round" />
<rect x="36.10" y="167.20" width="147.60" height="125.40" fill="none" stroke="#000" stroke-width="1.4"/>
<line x1="36.10" y1="292.60" x2="36.10" y2="290.00" stroke="#000" stroke-width="1" />
<text x="36.10" y="303.20" font-size="9" font-weight="bold" text-anchor="middle" fill="#000" >0</text>
<line x1="65.60" y1="292.60" x2="65.60" y2="290.00" stroke="#000" stroke-width="1" />
<text x="65.60" y="303.20" font-size="9" font-weight="bold" text-anchor="middle" fill="#000" >20</text>
<line x1="95.10" y1="292.60" x2="95.10" y2="290.00" stroke="#000" stroke-width="1" />
<text x="95.10" y="303.20" font-size="9" font-weight="bold" text-anchor="middle" fill="#000" >40</text>
<line x1="124.60" y1="292.60" x2="124.60" y2="290.00" stroke="#000" stroke-width="1" />
<text x="124.60" y="303.20" font-size="9" font-weight="bold" text-anchor="middle" fill="#000" >60</text>
<line x1="154.10" y1="292.60" x2="154.10" y2="290.00" stroke="#000" stroke-width="1" />
<text x="154.10" y="303.20" font-size="9" font-weight="bold" text-anchor="middle" fill="#000" >80</text>
<line x1="183.60" y1="292.60" x2="183.60" y2="290.00" stroke="#000" stroke-width="1" />
<text x="183.60" y="303.20" font-size="9" font-weight="bold" text-anchor="middle" fill="#000" >100</text>
<line x1="50.85" y1="292.60" x2="50.85" y2="291.10" stroke="#000" stroke-width="1" />
<line x1="80.35" y1="292.60" x2="80.35" y2="291.10" stroke="#000" stroke-width="1" />
<line x1="109.85" y1="292.60" x2="109.85" y2="291.10" stroke="#000" stroke-width="1" />
<line x1="139.35" y1="292.60" x2="139.35" y2="291.10" stroke="#000" stroke-width="1" />
<line x1="168.85" y1="292.60" x2="168.85" y2="291.10" stroke="#000" stroke-width="1" />
<line x1="36.10" y1="172.80" x2="38.70" y2="172.80" stroke="#000" stroke-width="1" />
<text x="33.40" y="175.80" font-size="9" font-weight="bold" text-anchor="end" fill="#000" >0</text>
<line x1="36.10" y1="196.70" x2="38.70" y2="196.70" stroke="#000" stroke-width="1" />
<text x="33.40" y="199.70" font-size="9" font-weight="bold" text-anchor="end" fill="#000" >-2</text>
<line x1="36.10" y1="220.60" x2="38.70" y2="220.60" stroke="#000" stroke-width="1" />
<text x="33.40" y="223.60" font-size="9" font-weight="bold" text-anchor="end" fill="#000" >-4</text>
<line x1="36.10" y1="244.50" x2="38.70" y2="244.50" stroke="#000" stroke-width="1" />
<text x="33.40" y="247.50" font-size="9" font-weight="bold" text-anchor="end" fill="#000" >-6</text>
<line x1="36.10" y1="268.40" x2="38.70" y2="268.40" stroke="#000" stroke-width="1" />
<text x="33.40" y="271.40" font-size="9" font-weight="bold" text-anchor="end" fill="#000" >-8</text>
<line x1="36.10" y1="292.30" x2="38.70" y2="292.30" stroke="#000" stroke-width="1" />
<text x="33.40" y="295.30" font-size="9" font-weight="bold" text-anchor="end" fill="#000" >-10</text>
<line x1="36.10" y1="184.75" x2="37.60" y2="184.75" stroke="#000" stroke-width="1" />
<line x1="36.10" y1="208.65" x2="37.60" y2="208.65" stroke="#000" stroke-width="1" />
<line x1="36.10" y1="232.55" x2="37.60" y2="232.55" stroke="#000" stroke-width="1" />
<line x1="36.10" y1="256.45" x2="37.60" y2="256.45" stroke="#000" stroke-width="1" />
<line x1="36.10" y1="280.35" x2="37.60" y2="280.35" stroke="#000" stroke-width="1" />
<text x="113.60" y="316.20" font-size="13" font-weight="bold" text-anchor="middle" fill="#000" >Time (s)</text>
<text transform="translate(14.90,232.80) rotate(-90)" x="0" y="0" font-size="13" font-weight="bold" text-anchor="middle" fill="#000" >Photocurrent (nA)</text>
<line x1="83.90" y1="195.20" x2="100.70" y2="195.20" stroke="#555" stroke-width="1.1" />
<circle cx="92.2" cy="195.2" r="1.7" fill="#444"/>
<text x="103.90" y="198.10" font-size="8" font-weight="bold" text-anchor="start" fill="#000" >Dark</text>
<line x1="83.90" y1="204.70" x2="100.70" y2="204.70" stroke="#f08080" stroke-width="1.1" />
<circle cx="92.2" cy="204.7" r="1.7" fill="#d40000"/>
<text x="103.90" y="207.60" font-size="8" font-weight="bold" text-anchor="start" fill="#000" >RCP-488 nm</text>
<line x1="83.90" y1="214.50" x2="100.70" y2="214.50" stroke="#30a830" stroke-width="1.1" />
<circle cx="92.2" cy="214.5" r="1.7" fill="#009a00"/>
<text x="103.90" y="217.40" font-size="8" font-weight="bold" text-anchor="start" fill="#000" >LP-488 nm</text>
<line x1="83.90" y1="224.10" x2="100.70" y2="224.10" stroke="#3a48e0" stroke-width="1.1" />
<circle cx="92.2" cy="224.1" r="1.7" fill="#0008c8"/>
<text x="103.90" y="227.00" font-size="8" font-weight="bold" text-anchor="start" fill="#000" >LCP-488 nm</text>
<line x1="252.61" y1="172.10" x2="252.61" y2="290.80" stroke="#2a40d0" stroke-width="1.0" />
<line x1="267.22" y1="172.10" x2="267.22" y2="282.41" stroke="#2a40d0" stroke-width="1.0" />
<line x1="281.23" y1="172.10" x2="281.23" y2="282.41" stroke="#2a40d0" stroke-width="1.0" />
<line x1="295.84" y1="172.10" x2="295.84" y2="282.41" stroke="#2a40d0" stroke-width="1.0" />
<line x1="309.85" y1="172.10" x2="309.85" y2="282.41" stroke="#2a40d0" stroke-width="1.0" />
<line x1="324.46" y1="172.10" x2="324.46" y2="282.41" stroke="#2a40d0" stroke-width="1.0" />
<line x1="338.47" y1="172.10" x2="338.47" y2="282.41" stroke="#2a40d0" stroke-width="1.0" />
<line x1="353.08" y1="172.10" x2="353.08" y2="282.41" stroke="#2a40d0" stroke-width="1.0" />
<line x1="367.09" y1="172.10" x2="367.09" y2="282.41" stroke="#2a40d0" stroke-width="1.0" />
<line x1="381.70" y1="172.10" x2="381.70" y2="282.41" stroke="#2a40d0" stroke-width="1.0" />
<line x1="239.10" y1="172.10" x2="252.61" y2="172.10" stroke="#0008d0" stroke-width="3.6" stroke-linecap="round"/>
<line x1="266.92" y1="172.10" x2="281.23" y2="172.10" stroke="#0008d0" stroke-width="3.6" stroke-linecap="round"/>
<line x1="295.54" y1="172.10" x2="309.85" y2="172.10" stroke="#0008d0" stroke-width="3.6" stroke-linecap="round"/>
<line x1="324.16" y1="172.10" x2="338.47" y2="172.10" stroke="#0008d0" stroke-width="3.6" stroke-linecap="round"/>
<line x1="352.78" y1="172.10" x2="367.09" y2="172.10" stroke="#0008d0" stroke-width="3.6" stroke-linecap="round"/>
<line x1="381.40" y1="172.10" x2="394.91" y2="172.10" stroke="#0008d0" stroke-width="3.6" stroke-linecap="round"/>
<polyline points="252.61,268.06 252.97,266.08 253.33,266.05 253.68,267.09 254.04,265.55 254.40,265.69 254.76,266.04 255.11,265.26 255.47,265.95 255.83,265.66 256.19,266.05 256.55,264.48 256.90,264.49 257.26,263.99 257.62,264.37 257.98,264.38 258.33,264.54 258.69,263.49 259.05,264.17 259.41,263.58 259.76,263.14 260.12,263.72 260.48,263.11 260.84,264.38 261.20,263.88 261.55,262.56 261.91,263.99 262.27,264.12 262.63,264.15 262.98,262.47 263.34,263.85 263.70,263.04 264.06,263.04 264.42,262.21 264.77,262.87 265.13,262.73 265.49,263.77 265.85,262.08 266.20,262.10 266.56,262.39 266.92,261.90" fill="none" stroke="#d40000" stroke-width="3.7" stroke-linejoin="round" stroke-linecap="round" />
<polyline points="252.61,275.69 252.97,275.07 253.33,274.41 253.68,274.56 254.04,275.52 254.40,273.35 254.76,272.83 255.11,274.26 255.47,274.30 255.83,273.47 256.19,273.76 256.55,272.97 256.90,273.37 257.26,272.90 257.62,273.20 257.98,272.11 258.33,272.24 258.69,271.17 259.05,271.76 259.41,272.11 259.76,270.29 260.12,270.31 260.48,270.65 260.84,271.56 261.20,271.07 261.55,270.88 261.91,270.89 262.27,271.63 262.63,270.63 262.98,269.89 263.34,269.99 263.70,269.57 264.06,269.89 264.42,269.67 264.77,269.38 265.13,269.23 265.49,269.46 265.85,270.23 266.20,269.66 266.56,269.63 266.92,269.11" fill="none" stroke="#009a00" stroke-width="3.7" stroke-linejoin="round" stroke-linecap="round" />
<polyline points="252.61,291.20 252.97,289.92 253.33,288.92 253.68,287.78 254.04,287.03 254.40,285.95 254.76,285.32 255.11,285.44 255.47,284.76 255.83,284.17 256.19,284.39 256.55,284.46 256.90,283.82 257.26,283.92 257.62,284.03 257.98,283.81 258.33,284.01 258.69,283.82 259.05,283.51 259.41,283.78 259.76,283.85 260.12,283.30 260.48,282.89 260.84,282.99 261.20,283.47 261.55,282.88 261.91,283.69 262.27,283.61 262.63,283.74 262.98,283.69 263.34,283.17 263.70,283.01 264.06,283.28 264.42,282.96 264.77,283.30 265.13,282.85 265.49,283.15 265.85,283.22 266.20,283.57 266.56,283.32 266.92,283.31" fill="none" stroke="#0008c8" stroke-width="3.7" stroke-linejoin="round" stroke-linecap="round" />
<polyline points="281.23,262.29 281.59,263.46 281.95,263.21 282.30,261.99 282.66,263.51 283.02,262.41 283.38,263.02 283.73,261.98 284.09,262.06 284.45,263.07 284.81,261.64 285.17,262.28 285.52,262.41 285.88,261.20 286.24,261.32 286.60,262.28 286.95,261.44 287.31,262.60 287.67,261.71 288.03,262.61 288.38,261.38 288.74,260.75 289.10,261.32 289.46,262.58 289.82,261.54 290.17,261.60 290.53,261.64 290.89,262.25 291.25,261.95 291.60,261.56 291.96,262.36 292.32,261.04 292.68,261.96 293.04,261.84 293.39,262.26 293.75,261.79 294.11,260.42 294.47,261.79 294.82,262.20 295.18,261.65 295.54,260.35" fill="none" stroke="#d40000" stroke-width="3.7" stroke-linejoin="round" stroke-linecap="round" />
<polyline points="281.23,272.75 281.59,272.02 281.95,272.15 282.30,270.97 282.66,271.30 283.02,271.95 283.38,270.18 283.73,271.21 284.09,270.32 284.45,270.72 284.81,269.72 285.17,271.38 285.52,270.93 285.88,270.72 286.24,270.69 286.60,269.41 286.95,270.04 287.31,270.31 287.67,269.90 288.03,269.11 288.38,269.66 288.74,269.86 289.10,269.37 289.46,269.42 289.82,269.83 290.17,269.74 290.53,270.34 290.89,269.65 291.25,268.66 291.60,269.87 291.96,269.71 292.32,269.17 292.68,269.18 293.04,270.05 293.39,269.44 293.75,268.80 294.11,270.28 294.47,270.11 294.82,268.70 295.18,268.36 295.54,270.15" fill="none" stroke="#009a00" stroke-width="3.7" stroke-linejoin="round" stroke-linecap="round" />
<polyline points="281.23,285.11 281.59,283.74 281.95,284.29 282.30,283.31 282.66,284.49 283.02,283.42 283.38,283.92 283.73,283.41 284.09,282.50 284.45,282.78 284.81,281.93 285.17,281.85 285.52,282.23 285.88,281.64 286.24,283.00 286.60,282.27 286.95,282.53 287.31,281.80 287.67,282.84 288.03,281.11 288.38,282.16 288.74,281.21 289.10,280.81 289.46,280.77 289.82,281.91 290.17,280.86 290.53,280.51 290.89,282.34 291.25,280.97 291.60,280.98 291.96,281.53 292.32,281.89 292.68,282.09 293.04,281.55 293.39,280.40 293.75,281.52 294.11,281.81 294.47,281.01 294.82,281.38 295.18,280.98 295.54,281.31" fill="none" stroke="#0008c8" stroke-width="3.7" stroke-linejoin="round" stroke-linecap="round" />
<polyline points="309.85,263.45 310.21,263.76 310.57,261.85 310.92,261.99 311.28,262.70 311.64,261.97 312.00,261.62 312.35,261.63 312.71,260.63 313.07,260.75 313.43,261.64 313.79,261.45 314.14,260.74 314.50,261.61 314.86,259.84 315.22,261.66 315.57,260.59 315.93,260.99 316.29,260.37 316.65,261.33 317.00,260.88 317.36,259.16 317.72,259.53 318.08,260.70 318.44,260.14 318.79,261.00 319.15,260.76 319.51,260.56 319.87,258.81 320.22,260.22 320.58,260.32 320.94,260.68 321.30,260.55 321.66,258.61 322.01,259.13 322.37,258.71 322.73,258.87 323.09,258.96 323.44,260.08 323.80,260.24 324.16,260.00" fill="none" stroke="#d40000" stroke-width="3.7" stroke-linejoin="round" stroke-linecap="round" />
<polyline points="309.85,272.79 310.21,272.33 310.57,270.94 310.92,271.23 311.28,272.08 311.64,271.26 312.00,269.92 312.35,269.76 312.71,269.87 313.07,269.73 313.43,269.21 313.79,269.85 314.14,270.11 314.50,269.59 314.86,270.12 315.22,270.55 315.57,269.98 315.93,269.47 316.29,270.12 316.65,270.13 317.00,269.70 317.36,269.37 317.72,268.04 318.08,269.00 318.44,268.19 318.79,268.34 319.15,268.62 319.51,269.15 319.87,268.96 320.22,269.08 320.58,268.36 320.94,267.85 321.30,267.95 321.66,268.99 322.01,269.28 322.37,269.55 322.73,268.29 323.09,269.03 323.44,269.49 323.80,268.83 324.16,268.97" fill="none" stroke="#009a00" stroke-width="3.7" stroke-linejoin="round" stroke-linecap="round" />
<polyline points="309.85,285.56 310.21,284.34 310.57,284.30 310.92,284.75 311.28,283.59 311.64,284.54 312.00,282.83 312.35,284.41 312.71,283.24 313.07,282.85 313.43,282.66 313.79,283.07 314.14,282.13 314.50,282.54 314.86,282.31 315.22,283.53 315.57,283.21 315.93,282.52 316.29,282.27 316.65,283.17 317.00,281.70 317.36,282.49 317.72,282.15 318.08,281.99 318.44,281.25 318.79,282.36 319.15,281.75 319.51,281.61 319.87,281.46 320.22,282.16 320.58,282.20 320.94,281.75 321.30,281.43 321.66,281.31 322.01,282.38 322.37,281.68 322.73,281.41 323.09,282.17 323.44,282.35 323.80,280.54 324.16,282.48" fill="none" stroke="#0008c8" stroke-width="3.7" stroke-linejoin="round" stroke-linecap="round" />
<polyline points="338.47,263.59 338.83,263.91 339.19,264.37 339.54,263.75 339.90,263.88 340.26,263.27 340.62,262.09 340.97,263.80 341.33,263.13 341.69,262.32 342.05,262.40 342.41,263.64 342.76,263.14 343.12,262.97 343.48,261.59 343.84,262.52 344.19,262.87 344.55,262.34 344.91,262.29 345.27,262.98 345.62,261.83 345.98,261.67 346.34,262.17 346.70,262.01 347.06,261.48 347.41,261.05 347.77,261.77 348.13,262.97 348.49,261.95 348.84,261.59 349.20,262.29 349.56,261.51 349.92,262.17 350.28,261.62 350.63,261.61 350.99,261.48 351.35,260.91 351.71,261.37 352.06,261.35 352.42,261.35 352.78,262.37" fill="none" stroke="#d40000" stroke-width="3.7" stroke-linejoin="round" stroke-linecap="round" />
<polyline points="338.47,271.61 338.83,271.33 339.19,272.28 339.54,270.55 339.90,271.46 340.26,270.68 340.62,270.42 340.97,269.80 341.33,269.54 341.69,270.01 342.05,268.84 342.41,269.77 342.76,269.37 343.12,268.33 343.48,269.65 343.84,268.69 344.19,268.06 344.55,269.85 344.91,268.26 345.27,268.44 345.62,268.60 345.98,267.99 346.34,267.76 346.70,269.23 347.06,268.44 347.41,268.10 347.77,267.86 348.13,267.25 348.49,267.53 348.84,267.43 349.20,269.04 349.56,268.21 349.92,267.12 350.28,267.02 350.63,267.39 350.99,268.27 351.35,267.30 351.71,267.79 352.06,267.47 352.42,267.51 352.78,266.99" fill="none" stroke="#009a00" stroke-width="3.7" stroke-linejoin="round" stroke-linecap="round" />
<polyline points="338.47,282.79 338.83,282.02 339.19,282.85 339.54,282.66 339.90,282.13 340.26,282.17 340.62,283.12 340.97,281.01 341.33,282.25 341.69,281.73 342.05,282.60 342.41,282.16 342.76,280.46 343.12,281.77 343.48,281.63 343.84,280.43 344.19,281.58 344.55,280.58 344.91,280.72 345.27,279.94 345.62,280.78 345.98,281.04 346.34,281.13 346.70,280.85 347.06,281.59 347.41,281.28 347.77,281.17 348.13,280.77 348.49,279.75 348.84,279.34 349.20,280.58 349.56,280.77 349.92,280.64 350.28,279.89 350.63,280.19 350.99,280.94 351.35,280.04 351.71,280.57 352.06,280.82 352.42,279.41 352.78,280.86" fill="none" stroke="#0008c8" stroke-width="3.7" stroke-linejoin="round" stroke-linecap="round" />
<polyline points="367.09,263.12 367.45,262.30 367.81,262.68 368.16,261.87 368.52,262.97 368.88,261.53 369.24,263.40 369.59,261.48 369.95,262.43 370.31,263.27 370.67,262.65 371.03,261.02 371.38,261.55 371.74,261.45 372.10,261.25 372.46,262.94 372.81,262.24 373.17,261.86 373.53,260.87 373.89,260.83 374.25,262.44 374.60,260.60 374.96,261.50 375.32,262.01 375.68,262.46 376.03,261.70 376.39,261.47 376.75,261.59 377.11,261.88 377.46,260.49 377.82,261.49 378.18,261.83 378.54,260.80 378.90,261.94 379.25,261.54 379.61,262.22 379.97,261.91 380.33,260.26 380.68,261.06 381.04,261.26 381.40,260.93" fill="none" stroke="#d40000" stroke-width="3.7" stroke-linejoin="round" stroke-linecap="round" />
<polyline points="367.09,270.53 367.45,270.62 367.81,270.74 368.16,271.01 368.52,271.08 368.88,270.70 369.24,269.92 369.59,270.61 369.95,269.03 370.31,269.62 370.67,269.71 371.03,269.42 371.38,268.91 371.74,269.42 372.10,267.93 372.46,268.63 372.81,269.43 373.17,269.31 373.53,267.50 373.89,268.10 374.25,268.65 374.60,267.67 374.96,269.05 375.32,267.17 375.68,267.01 376.03,267.55 376.39,268.83 376.75,267.97 377.11,267.04 377.46,267.53 377.82,268.32 378.18,268.23 378.54,268.56 378.90,267.54 379.25,268.25 379.61,267.65 379.97,266.66 380.33,266.62 380.68,267.48 381.04,266.83 381.40,268.21" fill="none" stroke="#009a00" stroke-width="3.7" stroke-linejoin="round" stroke-linecap="round" />
<polyline points="367.09,282.28 367.45,282.17 367.81,282.72 368.16,281.59 368.52,282.62 368.88,280.91 369.24,282.12 369.59,280.62 369.95,280.62 370.31,280.23 370.67,280.51 371.03,281.77 371.38,281.17 371.74,280.22 372.10,279.55 372.46,279.92 372.81,281.19 373.17,280.41 373.53,280.32 373.89,280.60 374.25,280.39 374.60,279.68 374.96,279.91 375.32,280.07 375.68,279.68 376.03,278.46 376.39,279.16 376.75,278.76 377.11,278.32 377.46,280.22 377.82,278.33 378.18,279.98 378.54,279.72 378.90,278.51 379.25,278.45 379.61,278.71 379.97,278.98 380.33,278.41 380.68,279.02 381.04,279.50 381.40,279.42" fill="none" stroke="#0008c8" stroke-width="3.7" stroke-linejoin="round" stroke-linecap="round" />
<circle cx="309.99" cy="186.97" r="1.5" fill="#d40000"/>
<circle cx="324.73" cy="231.45" r="1.5" fill="#d40000"/>
<circle cx="252.61" cy="257.23" r="1.5" fill="#009a00"/>
<circle cx="295.97" cy="254.83" r="1.5" fill="#009a00"/>
<rect x="238.10" y="166.40" width="159.40" height="125.70" fill="none" stroke="#000" stroke-width="1.4"/>
<line x1="238.30" y1="292.10" x2="238.30" y2="289.50" stroke="#000" stroke-width="1" />
<text x="238.30" y="303.00" font-size="9" font-weight="bold" text-anchor="middle" fill="#000" >0</text>
<line x1="266.92" y1="292.10" x2="266.92" y2="289.50" stroke="#000" stroke-width="1" />
<text x="266.92" y="303.00" font-size="9" font-weight="bold" text-anchor="middle" fill="#000" >20</text>
<line x1="295.54" y1="292.10" x2="295.54" y2="289.50" stroke="#000" stroke-width="1" />
<text x="295.54" y="303.00" font-size="9" font-weight="bold" text-anchor="middle" fill="#000" >40</text>
<line x1="324.16" y1="292.10" x2="324.16" y2="289.50" stroke="#000" stroke-width="1" />
<text x="324.16" y="303.00" font-size="9" font-weight="bold" text-anchor="middle" fill="#000" >60</text>
<line x1="352.78" y1="292.10" x2="352.78" y2="289.50" stroke="#000" stroke-width="1" />
<text x="352.78" y="303.00" font-size="9" font-weight="bold" text-anchor="middle" fill="#000" >80</text>
<line x1="381.40" y1="292.10" x2="381.40" y2="289.50" stroke="#000" stroke-width="1" />
<text x="381.40" y="303.00" font-size="9" font-weight="bold" text-anchor="middle" fill="#000" >100</text>
<line x1="252.61" y1="292.10" x2="252.61" y2="290.60" stroke="#000" stroke-width="1" />
<line x1="281.23" y1="292.10" x2="281.23" y2="290.60" stroke="#000" stroke-width="1" />
<line x1="309.85" y1="292.10" x2="309.85" y2="290.60" stroke="#000" stroke-width="1" />
<line x1="338.47" y1="292.10" x2="338.47" y2="290.60" stroke="#000" stroke-width="1" />
<line x1="367.09" y1="292.10" x2="367.09" y2="290.60" stroke="#000" stroke-width="1" />
<line x1="395.71" y1="292.10" x2="395.71" y2="290.60" stroke="#000" stroke-width="1" />
<line x1="238.10" y1="172.10" x2="240.70" y2="172.10" stroke="#000" stroke-width="1" />
<text x="235.40" y="175.00" font-size="9" font-weight="bold" text-anchor="end" fill="#000" >0</text>
<line x1="238.10" y1="196.08" x2="240.70" y2="196.08" stroke="#000" stroke-width="1" />
<text x="235.40" y="198.98" font-size="9" font-weight="bold" text-anchor="end" fill="#000" >-2</text>
<line x1="238.10" y1="220.06" x2="240.70" y2="220.06" stroke="#000" stroke-width="1" />
<text x="235.40" y="222.96" font-size="9" font-weight="bold" text-anchor="end" fill="#000" >-4</text>
<line x1="238.10" y1="244.04" x2="240.70" y2="244.04" stroke="#000" stroke-width="1" />
<text x="235.40" y="246.94" font-size="9" font-weight="bold" text-anchor="end" fill="#000" >-6</text>
<line x1="238.10" y1="268.02" x2="240.70" y2="268.02" stroke="#000" stroke-width="1" />
<text x="235.40" y="270.92" font-size="9" font-weight="bold" text-anchor="end" fill="#000" >-8</text>
<line x1="238.10" y1="292.00" x2="240.70" y2="292.00" stroke="#000" stroke-width="1" />
<text x="235.40" y="294.90" font-size="9" font-weight="bold" text-anchor="end" fill="#000" >-10</text>
<line x1="238.10" y1="184.09" x2="239.60" y2="184.09" stroke="#000" stroke-width="1" />
<line x1="238.10" y1="208.07" x2="239.60" y2="208.07" stroke="#000" stroke-width="1" />
<line x1="238.10" y1="232.05" x2="239.60" y2="232.05" stroke="#000" stroke-width="1" />
<line x1="238.10" y1="256.03" x2="239.60" y2="256.03" stroke="#000" stroke-width="1" />
<line x1="238.10" y1="280.01" x2="239.60" y2="280.01" stroke="#000" stroke-width="1" />
<text x="318.20" y="316.20" font-size="13" font-weight="bold" text-anchor="middle" fill="#000" >Time (s)</text>
<text transform="translate(219.80,231.80) rotate(-90)" x="0" y="0" font-size="13" font-weight="bold" text-anchor="middle" fill="#000" >Photocurrent (nA)</text>
<line x1="403.80" y1="196.50" x2="420.70" y2="196.50" stroke="#e84848" stroke-width="1.2" />
<circle cx="412.3" cy="196.5" r="1.8" fill="#d40000"/>
<text x="422.40" y="199.40" font-size="8" font-weight="bold" text-anchor="start" fill="#000" >RCP-488 nm</text>
<line x1="403.80" y1="206.40" x2="420.70" y2="206.40" stroke="#30a830" stroke-width="1.2" />
<circle cx="412.3" cy="206.4" r="1.8" fill="#009a00"/>
<text x="422.40" y="209.30" font-size="8" font-weight="bold" text-anchor="start" fill="#000" >LP-488 nm</text>
<line x1="403.80" y1="216.00" x2="420.70" y2="216.00" stroke="#8c9cf0" stroke-width="2.0" />
<circle cx="412.3" cy="216.0" r="1.8" fill="#0008c8"/>
<text x="422.40" y="218.90" font-size="8" font-weight="bold" text-anchor="start" fill="#000" >LCP-488 nm</text>
<line x1="541.90" y1="167.40" x2="541.90" y2="292.20" stroke="#e6e6e6" stroke-width="0.8" />
<line x1="579.87" y1="167.40" x2="579.87" y2="292.20" stroke="#e6e6e6" stroke-width="0.8" />
<line x1="617.84" y1="167.40" x2="617.84" y2="292.20" stroke="#e6e6e6" stroke-width="0.8" />
<line x1="655.81" y1="167.40" x2="655.81" y2="292.20" stroke="#e6e6e6" stroke-width="0.8" />
<polyline points="525.02,207.47 525.45,207.68 525.87,207.93 526.29,208.21 526.71,208.53 527.13,208.88 527.56,209.28 527.98,209.70 528.40,210.16 528.82,210.66 529.24,211.19 529.66,211.75 530.09,212.34 530.51,212.97 530.93,213.62 531.35,214.31 531.77,215.03 532.20,215.77 532.62,216.54 533.04,217.34 533.46,218.16 533.88,219.01 534.31,219.88 534.73,220.78 535.15,221.69 535.57,222.62 535.99,223.58 536.42,224.55 536.84,225.54 537.26,226.54 537.68,227.56 538.10,228.59 538.52,229.64 538.95,230.69 539.37,231.75 539.79,232.82 540.21,233.90 540.63,234.98 541.06,236.07 541.48,237.16 541.90,238.25 542.32,239.34 542.74,240.43 543.17,241.52 543.59,242.60 544.01,243.68 544.43,244.75 544.85,245.81 545.28,246.86 545.70,247.91 546.12,248.94 546.54,249.96 546.96,250.96 547.38,251.95 547.81,252.92 548.23,253.88 548.65,254.81 549.07,255.72 549.49,256.62 549.92,257.49 550.34,258.34 550.76,259.16 551.18,259.96 551.60,260.73 552.03,261.47 552.45,262.19 552.87,262.88 553.29,263.53 553.71,264.16 554.14,264.75 554.56,265.31 554.98,265.84 555.40,266.34 555.82,266.80 556.24,267.22 556.67,267.62 557.09,267.97 557.51,268.29 557.93,268.57 558.35,268.82 558.78,269.03 559.20,269.20 559.62,269.33 560.04,269.42 560.46,269.48 560.89,269.50 561.31,269.48 561.73,269.42 562.15,269.33 562.57,269.20 563.00,269.03 563.42,268.82 563.84,268.57 564.26,268.29 564.68,267.97 565.10,267.62 565.53,267.22 565.95,266.80 566.37,266.34 566.79,265.84 567.21,265.31 567.64,264.75 568.06,264.16 568.48,263.53 568.90,262.88 569.32,262.19 569.75,261.47 570.17,260.73 570.59,259.96 571.01,259.16 571.43,258.34 571.85,257.49 572.28,256.62 572.70,255.72 573.12,254.81 573.54,253.88 573.96,252.92 574.39,251.95 574.81,250.96 575.23,249.96 575.65,248.94 576.07,247.91 576.50,246.86 576.92,245.81 577.34,244.75 577.76,243.68 578.18,242.60 578.61,241.52 579.03,240.43 579.45,239.34 579.87,238.25 580.29,237.16 580.71,236.07 581.14,234.98 581.56,233.90 581.98,232.82 582.40,231.75 582.82,230.69 583.25,229.64 583.67,228.59 584.09,227.56 584.51,226.54 584.93,225.54 585.36,224.55 585.78,223.58 586.20,222.62 586.62,221.69 587.04,220.78 587.47,219.88 587.89,219.01 588.31,218.16 588.73,217.34 589.15,216.54 589.57,215.77 590.00,215.03 590.42,214.31 590.84,213.62 591.26,212.97 591.68,212.34 592.11,211.75 592.53,211.19 592.95,210.66 593.37,210.16 593.79,209.70 594.22,209.28 594.64,208.88 595.06,208.53 595.48,208.21 595.90,207.93 596.33,207.68 596.75,207.47 597.17,207.30 597.59,207.17 598.01,207.08 598.43,207.02 598.86,207.00 599.28,207.02 599.70,207.08 600.12,207.17 600.54,207.30 600.97,207.47 601.39,207.68 601.81,207.93 602.23,208.21 602.65,208.53 603.08,208.88 603.50,209.28 603.92,209.70 604.34,210.16 604.76,210.66 605.18,211.19 605.61,211.75 606.03,212.34 606.45,212.97 606.87,213.62 607.29,214.31 607.72,215.03 608.14,215.77 608.56,216.54 608.98,217.34 609.40,218.16 609.83,219.01 610.25,219.88 610.67,220.78 611.09,221.69 611.51,222.62 611.94,223.58 612.36,224.55 612.78,225.54 613.20,226.54 613.62,227.56 614.04,228.59 614.47,229.64 614.89,230.69 615.31,231.75 615.73,232.82 616.15,233.90 616.58,234.98 617.00,236.07 617.42,237.16 617.84,238.25 618.26,239.34 618.69,240.43 619.11,241.52 619.53,242.60 619.95,243.68 620.37,244.75 620.80,245.81 621.22,246.86 621.64,247.91 622.06,248.94 622.48,249.96 622.90,250.96 623.33,251.95 623.75,252.92 624.17,253.88 624.59,254.81 625.01,255.72 625.44,256.62 625.86,257.49 626.28,258.34 626.70,259.16 627.12,259.96 627.55,260.73 627.97,261.47 628.39,262.19 628.81,262.88 629.23,263.53 629.66,264.16 630.08,264.75 630.50,265.31 630.92,265.84 631.34,266.34 631.76,266.80 632.19,267.22 632.61,267.62 633.03,267.97 633.45,268.29 633.87,268.57 634.30,268.82 634.72,269.03 635.14,269.20 635.56,269.33 635.98,269.42 636.41,269.48 636.83,269.50 637.25,269.48 637.67,269.42 638.09,269.33 638.52,269.20 638.94,269.03 639.36,268.82 639.78,268.57 640.20,268.29 640.62,267.97 641.05,267.62 641.47,267.22 641.89,266.80 642.31,266.34 642.73,265.84 643.16,265.31 643.58,264.75 644.00,264.16 644.42,263.53 644.84,262.88 645.27,262.19 645.69,261.47 646.11,260.73 646.53,259.96 646.95,259.16 647.38,258.34 647.80,257.49 648.22,256.62 648.64,255.72 649.06,254.81 649.48,253.88 649.91,252.92 650.33,251.95 650.75,250.96 651.17,249.96 651.59,248.94 652.02,247.91 652.44,246.86 652.86,245.81 653.28,244.75 653.70,243.68 654.13,242.60 654.55,241.52 654.97,240.43 655.39,239.34 655.81,238.25 656.23,237.16 656.66,236.07 657.08,234.98 657.50,233.90 657.92,232.82 658.34,231.75 658.77,230.69 659.19,229.64 659.61,228.59 660.03,227.56 660.45,226.54 660.88,225.54 661.30,224.55 661.72,223.58 662.14,222.62 662.56,221.69 662.99,220.78 663.41,219.88 663.83,219.01 664.25,218.16 664.67,217.34 665.09,216.54 665.52,215.77 665.94,215.03 666.36,214.31 666.78,213.62 667.20,212.97 667.63,212.34 668.05,211.75 668.47,211.19 668.89,210.66 669.31,210.16 669.74,209.70 670.16,209.28 670.58,208.88 671.00,208.53 671.42,208.21 671.85,207.93 672.27,207.68 672.69,207.47" fill="none" stroke="#5a5a5a" stroke-width="0.8" stroke-linejoin="round" stroke-linecap="round" />
<rect x="523.60" y="204.70" width="3.20" height="3.20" fill="#1f6fe6" />
<rect x="528.10" y="214.40" width="3.20" height="3.20" fill="#1f6fe6" />
<rect x="532.00" y="219.60" width="3.20" height="3.20" fill="#1f6fe6" />
<rect x="536.20" y="237.60" width="3.20" height="3.20" fill="#1f6fe6" />
<rect x="540.60" y="242.60" width="3.20" height="3.20" fill="#1f6fe6" />
<rect x="544.50" y="246.30" width="3.20" height="3.20" fill="#1f6fe6" />
<rect x="548.70" y="254.90" width="3.20" height="3.20" fill="#1f6fe6" />
<rect x="553.20" y="264.80" width="3.20" height="3.20" fill="#1f6fe6" />
<rect x="557.40" y="270.60" width="3.20" height="3.20" fill="#1f6fe6" />
<rect x="561.50" y="269.50" width="3.20" height="3.20" fill="#1f6fe6" />
<rect x="565.70" y="259.90" width="3.20" height="3.20" fill="#1f6fe6" />
<rect x="570.20" y="252.00" width="3.20" height="3.20" fill="#1f6fe6" />
<rect x="574.10" y="242.90" width="3.20" height="3.20" fill="#1f6fe6" />
<rect x="578.30" y="241.30" width="3.20" height="3.20" fill="#1f6fe6" />
<rect x="582.50" y="236.60" width="3.20" height="3.20" fill="#1f6fe6" />
<rect x="586.60" y="218.80" width="3.20" height="3.20" fill="#1f6fe6" />
<rect x="590.90" y="213.10" width="3.20" height="3.20" fill="#1f6fe6" />
<rect x="595.40" y="203.00" width="3.20" height="3.20" fill="#1f6fe6" />
<rect x="599.60" y="197.60" width="3.20" height="3.20" fill="#1f6fe6" />
<rect x="603.80" y="208.30" width="3.20" height="3.20" fill="#1f6fe6" />
<rect x="607.70" y="217.90" width="3.20" height="3.20" fill="#1f6fe6" />
<rect x="612.10" y="227.10" width="3.20" height="3.20" fill="#1f6fe6" />
<rect x="616.30" y="239.80" width="3.20" height="3.20" fill="#1f6fe6" />
<rect x="620.50" y="242.70" width="3.20" height="3.20" fill="#1f6fe6" />
<rect x="624.70" y="251.30" width="3.20" height="3.20" fill="#1f6fe6" />
<rect x="628.80" y="256.50" width="3.20" height="3.20" fill="#1f6fe6" />
<rect x="633.00" y="267.00" width="3.20" height="3.20" fill="#1f6fe6" />
<rect x="637.20" y="267.00" width="3.20" height="3.20" fill="#1f6fe6" />
<rect x="641.60" y="264.60" width="3.20" height="3.20" fill="#1f6fe6" />
<rect x="645.80" y="256.00" width="3.20" height="3.20" fill="#1f6fe6" />
<rect x="650.00" y="249.00" width="3.20" height="3.20" fill="#1f6fe6" />
<rect x="654.10" y="242.70" width="3.20" height="3.20" fill="#1f6fe6" />
<rect x="658.30" y="239.60" width="3.20" height="3.20" fill="#1f6fe6" />
<rect x="662.80" y="222.90" width="3.20" height="3.20" fill="#1f6fe6" />
<rect x="666.90" y="215.10" width="3.20" height="3.20" fill="#1f6fe6" />
<rect x="671.10" y="207.80" width="3.20" height="3.20" fill="#1f6fe6" />
<rect x="521.30" y="167.40" width="156.20" height="124.80" fill="none" stroke="#000" stroke-width="1.4"/>
<line x1="541.90" y1="292.20" x2="541.90" y2="289.60" stroke="#000" stroke-width="1" />
<text x="541.90" y="303.20" font-size="9" font-weight="bold" text-anchor="middle" fill="#000" >0</text>
<line x1="579.87" y1="292.20" x2="579.87" y2="289.60" stroke="#000" stroke-width="1" />
<text x="579.87" y="303.20" font-size="9" font-weight="bold" text-anchor="middle" fill="#000" >90</text>
<line x1="617.84" y1="292.20" x2="617.84" y2="289.60" stroke="#000" stroke-width="1" />
<text x="617.84" y="303.20" font-size="9" font-weight="bold" text-anchor="middle" fill="#000" >180</text>
<line x1="655.81" y1="292.20" x2="655.81" y2="289.60" stroke="#000" stroke-width="1" />
<text x="655.81" y="303.20" font-size="9" font-weight="bold" text-anchor="middle" fill="#000" >270</text>
<line x1="522.91" y1="292.20" x2="522.91" y2="290.70" stroke="#000" stroke-width="1" />
<line x1="560.89" y1="292.20" x2="560.89" y2="290.70" stroke="#000" stroke-width="1" />
<line x1="598.86" y1="292.20" x2="598.86" y2="290.70" stroke="#000" stroke-width="1" />
<line x1="636.83" y1="292.20" x2="636.83" y2="290.70" stroke="#000" stroke-width="1" />
<line x1="674.80" y1="292.20" x2="674.80" y2="290.70" stroke="#000" stroke-width="1" />
<line x1="521.30" y1="292.20" x2="523.90" y2="292.20" stroke="#000" stroke-width="1" />
<text x="518.80" y="294.80" font-size="9" font-weight="bold" text-anchor="end" fill="#000" >-6</text>
<line x1="521.30" y1="274.37" x2="523.90" y2="274.37" stroke="#000" stroke-width="1" />
<text x="518.80" y="276.97" font-size="9" font-weight="bold" text-anchor="end" fill="#000" >-7</text>
<line x1="521.30" y1="256.54" x2="523.90" y2="256.54" stroke="#000" stroke-width="1" />
<text x="518.80" y="259.14" font-size="9" font-weight="bold" text-anchor="end" fill="#000" >-8</text>
<line x1="521.30" y1="238.71" x2="523.90" y2="238.71" stroke="#000" stroke-width="1" />
<text x="518.80" y="241.31" font-size="9" font-weight="bold" text-anchor="end" fill="#000" >-9</text>
<line x1="521.30" y1="220.88" x2="523.90" y2="220.88" stroke="#000" stroke-width="1" />
<text x="518.80" y="223.48" font-size="9" font-weight="bold" text-anchor="end" fill="#000" >-10</text>
<line x1="521.30" y1="203.05" x2="523.90" y2="203.05" stroke="#000" stroke-width="1" />
<text x="518.80" y="205.65" font-size="9" font-weight="bold" text-anchor="end" fill="#000" >-11</text>
<line x1="521.30" y1="185.22" x2="523.90" y2="185.22" stroke="#000" stroke-width="1" />
<text x="518.80" y="187.82" font-size="9" font-weight="bold" text-anchor="end" fill="#000" >-12</text>
<line x1="521.30" y1="167.39" x2="523.90" y2="167.39" stroke="#000" stroke-width="1" />
<text x="518.80" y="169.99" font-size="9" font-weight="bold" text-anchor="end" fill="#000" >-13</text>
<line x1="521.30" y1="283.28" x2="522.80" y2="283.28" stroke="#000" stroke-width="1" />
<line x1="521.30" y1="265.45" x2="522.80" y2="265.45" stroke="#000" stroke-width="1" />
<line x1="521.30" y1="247.62" x2="522.80" y2="247.62" stroke="#000" stroke-width="1" />
<line x1="521.30" y1="229.79" x2="522.80" y2="229.79" stroke="#000" stroke-width="1" />
<line x1="521.30" y1="211.97" x2="522.80" y2="211.97" stroke="#000" stroke-width="1" />
<line x1="521.30" y1="194.13" x2="522.80" y2="194.13" stroke="#000" stroke-width="1" />
<line x1="521.30" y1="176.31" x2="522.80" y2="176.31" stroke="#000" stroke-width="1" />
<text x="591.80" y="316.40" font-size="13" font-weight="bold" text-anchor="middle" fill="#000" >Retarder angle (°)</text>
<text transform="translate(492.50,227.70) rotate(-90)" x="0" y="0" font-size="13" font-weight="bold" text-anchor="middle" fill="#000" >Photocurrent (nA)</text>
<defs>
<radialGradient id="sg" cx="0.5" cy="0.5" r="0.5" fx="0.36" fy="0.32"><stop offset="0" stop-color="#ffffff"/><stop offset="0.16" stop-color="#c8c8c8"/><stop offset="0.4" stop-color="#6a6a6a"/><stop offset="0.8" stop-color="#444"/><stop offset="1" stop-color="#2c2c2c"/></radialGradient>
<radialGradient id="sr" cx="0.5" cy="0.5" r="0.5" fx="0.36" fy="0.32"><stop offset="0" stop-color="#ffffff"/><stop offset="0.16" stop-color="#ffc0c0"/><stop offset="0.4" stop-color="#f46060"/><stop offset="0.8" stop-color="#e63a3a"/><stop offset="1" stop-color="#c42a2a"/></radialGradient>
</defs>
<line x1="35.00" y1="345.00" x2="191.20" y2="345.00" stroke="#000" stroke-width="1.8" />
<line x1="35.70" y1="469.40" x2="191.20" y2="469.40" stroke="#000" stroke-width="1.5" />
<line x1="35.70" y1="344.30" x2="35.70" y2="470.10" stroke="#111" stroke-width="1.4" />
<line x1="191.20" y1="344.30" x2="191.20" y2="470.10" stroke="#f03030" stroke-width="1.3" />
<line x1="33.10" y1="361.50" x2="35.70" y2="361.50" stroke="#333" stroke-width="1" />
<line x1="33.10" y1="415.40" x2="35.70" y2="415.40" stroke="#333" stroke-width="1" />
<line x1="33.10" y1="469.30" x2="35.70" y2="469.30" stroke="#333" stroke-width="1" />
<line x1="34.30" y1="345.27" x2="35.70" y2="345.27" stroke="#333" stroke-width="0.8" />
<line x1="34.30" y1="399.17" x2="35.70" y2="399.17" stroke="#333" stroke-width="0.8" />
<line x1="34.30" y1="389.68" x2="35.70" y2="389.68" stroke="#333" stroke-width="0.8" />
<line x1="34.30" y1="382.95" x2="35.70" y2="382.95" stroke="#333" stroke-width="0.8" />
<line x1="34.30" y1="377.73" x2="35.70" y2="377.73" stroke="#333" stroke-width="0.8" />
<line x1="34.30" y1="373.46" x2="35.70" y2="373.46" stroke="#333" stroke-width="0.8" />
<line x1="34.30" y1="369.85" x2="35.70" y2="369.85" stroke="#333" stroke-width="0.8" />
<line x1="34.30" y1="366.72" x2="35.70" y2="366.72" stroke="#333" stroke-width="0.8" />
<line x1="34.30" y1="363.97" x2="35.70" y2="363.97" stroke="#333" stroke-width="0.8" />
<line x1="34.30" y1="453.07" x2="35.70" y2="453.07" stroke="#333" stroke-width="0.8" />
<line x1="34.30" y1="443.58" x2="35.70" y2="443.58" stroke="#333" stroke-width="0.8" />
<line x1="34.30" y1="436.85" x2="35.70" y2="436.85" stroke="#333" stroke-width="0.8" />
<line x1="34.30" y1="431.63" x2="35.70" y2="431.63" stroke="#333" stroke-width="0.8" />
<line x1="34.30" y1="427.36" x2="35.70" y2="427.36" stroke="#333" stroke-width="0.8" />
<line x1="34.30" y1="423.75" x2="35.70" y2="423.75" stroke="#333" stroke-width="0.8" />
<line x1="34.30" y1="420.62" x2="35.70" y2="420.62" stroke="#333" stroke-width="0.8" />
<line x1="34.30" y1="417.87" x2="35.70" y2="417.87" stroke="#333" stroke-width="0.8" />
<line x1="191.20" y1="361.50" x2="193.80" y2="361.50" stroke="#f03030" stroke-width="1" />
<line x1="191.20" y1="415.40" x2="193.80" y2="415.40" stroke="#f03030" stroke-width="1" />
<line x1="191.20" y1="469.30" x2="193.80" y2="469.30" stroke="#f03030" stroke-width="1" />
<line x1="191.20" y1="345.27" x2="192.60" y2="345.27" stroke="#f03030" stroke-width="0.8" />
<line x1="191.20" y1="399.17" x2="192.60" y2="399.17" stroke="#f03030" stroke-width="0.8" />
<line x1="191.20" y1="389.68" x2="192.60" y2="389.68" stroke="#f03030" stroke-width="0.8" />
<line x1="191.20" y1="382.95" x2="192.60" y2="382.95" stroke="#f03030" stroke-width="0.8" />
<line x1="191.20" y1="377.73" x2="192.60" y2="377.73" stroke="#f03030" stroke-width="0.8" />
<line x1="191.20" y1="373.46" x2="192.60" y2="373.46" stroke="#f03030" stroke-width="0.8" />
<line x1="191.20" y1="369.85" x2="192.60" y2="369.85" stroke="#f03030" stroke-width="0.8" />
<line x1="191.20" y1="366.72" x2="192.60" y2="366.72" stroke="#f03030" stroke-width="0.8" />
<line x1="191.20" y1="363.97" x2="192.60" y2="363.97" stroke="#f03030" stroke-width="0.8" />
<line x1="191.20" y1="453.07" x2="192.60" y2="453.07" stroke="#f03030" stroke-width="0.8" />
<line x1="191.20" y1="443.58" x2="192.60" y2="443.58" stroke="#f03030" stroke-width="0.8" />
<line x1="191.20" y1="436.85" x2="192.60" y2="436.85" stroke="#f03030" stroke-width="0.8" />
<line x1="191.20" y1="431.63" x2="192.60" y2="431.63" stroke="#f03030" stroke-width="0.8" />
<line x1="191.20" y1="427.36" x2="192.60" y2="427.36" stroke="#f03030" stroke-width="0.8" />
<line x1="191.20" y1="423.75" x2="192.60" y2="423.75" stroke="#f03030" stroke-width="0.8" />
<line x1="191.20" y1="420.62" x2="192.60" y2="420.62" stroke="#f03030" stroke-width="0.8" />
<line x1="191.20" y1="417.87" x2="192.60" y2="417.87" stroke="#f03030" stroke-width="0.8" />
<line x1="35.80" y1="469.40" x2="35.80" y2="471.80" stroke="#000" stroke-width="1" />
<line x1="95.61" y1="469.40" x2="95.61" y2="471.80" stroke="#000" stroke-width="1" />
<line x1="130.60" y1="469.40" x2="130.60" y2="471.80" stroke="#000" stroke-width="1" />
<line x1="155.43" y1="469.40" x2="155.43" y2="471.80" stroke="#000" stroke-width="1" />
<line x1="174.69" y1="469.40" x2="174.69" y2="471.80" stroke="#000" stroke-width="1" />
<line x1="190.42" y1="469.40" x2="190.42" y2="471.80" stroke="#000" stroke-width="1" />
<line x1="70.79" y1="469.40" x2="70.79" y2="470.80" stroke="#000" stroke-width="0.8" />
<line x1="114.87" y1="469.40" x2="114.87" y2="470.80" stroke="#000" stroke-width="0.8" />
<line x1="143.91" y1="469.40" x2="143.91" y2="470.80" stroke="#000" stroke-width="0.8" />
<line x1="165.59" y1="469.40" x2="165.59" y2="470.80" stroke="#000" stroke-width="0.8" />
<line x1="182.91" y1="469.40" x2="182.91" y2="470.80" stroke="#000" stroke-width="0.8" />
<text x="35.80" y="481.20" font-size="8.8" font-weight="bold" text-anchor="middle" fill="#000" >2</text>
<text x="95.61" y="481.20" font-size="8.8" font-weight="bold" text-anchor="middle" fill="#000" >4</text>
<text x="130.60" y="481.20" font-size="8.8" font-weight="bold" text-anchor="middle" fill="#000" >6</text>
<text x="155.43" y="481.20" font-size="8.8" font-weight="bold" text-anchor="middle" fill="#000" >8</text>
<text x="174.69" y="481.20" font-size="8.8" font-weight="bold" text-anchor="middle" fill="#000" >10</text>
<text x="190.42" y="481.20" font-size="8.8" font-weight="bold" text-anchor="middle" fill="#000" >12</text>
<text x="32.6" y="364.70" font-size="9" font-weight="bold" text-anchor="end" fill="#6a6a6a">10<tspan dy="-3.6" font-size="6.5">-8</tspan></text>
<text x="32.6" y="418.60" font-size="9" font-weight="bold" text-anchor="end" fill="#6a6a6a">10<tspan dy="-3.6" font-size="6.5">-9</tspan></text>
<text x="32.6" y="472.50" font-size="9" font-weight="bold" text-anchor="end" fill="#6a6a6a">10<tspan dy="-3.6" font-size="6.5">-10</tspan></text>
<text x="195.4" y="364.70" font-size="9" font-weight="bold" fill="#f06060">10<tspan dy="-3.6" font-size="6">3</tspan></text>
<text x="195.4" y="418.60" font-size="9" font-weight="bold" fill="#f06060">10<tspan dy="-3.6" font-size="6">2</tspan></text>
<text x="195.4" y="472.50" font-size="9" font-weight="bold" fill="#f06060">10<tspan dy="-3.6" font-size="6">1</tspan></text>
<circle cx="51.4" cy="390.4" r="3.5" fill="url(#sg)"/>
<circle cx="72.9" cy="388.5" r="3.5" fill="url(#sg)"/>
<circle cx="92.3" cy="381.2" r="3.5" fill="url(#sg)"/>
<circle cx="111.5" cy="378.9" r="3.5" fill="url(#sg)"/>
<circle cx="131.5" cy="372.3" r="3.5" fill="url(#sg)"/>
<circle cx="151.3" cy="365.1" r="3.5" fill="url(#sg)"/>
<circle cx="171.6" cy="362.3" r="3.5" fill="url(#sg)"/>
<circle cx="51.4" cy="451" r="3.5" fill="url(#sr)"/>
<circle cx="72.8" cy="454.9" r="3.5" fill="url(#sr)"/>
<circle cx="92.1" cy="452.5" r="3.5" fill="url(#sr)"/>
<circle cx="111.4" cy="455.5" r="3.5" fill="url(#sr)"/>
<circle cx="131.5" cy="454.5" r="3.5" fill="url(#sr)"/>
<circle cx="151.2" cy="452.5" r="3.5" fill="url(#sr)"/>
<circle cx="171.4" cy="455.3" r="3.5" fill="url(#sr)"/>
<text x="110.70" y="411.10" font-size="8" font-weight="bold" text-anchor="start" fill="#000" >488 nm</text>
<line x1="92.00" y1="418.30" x2="107.60" y2="418.30" stroke="#cfcfcf" stroke-width="0.9" />
<line x1="92.00" y1="427.60" x2="107.60" y2="427.60" stroke="#f6b0b0" stroke-width="0.9" />
<circle cx="99.9" cy="418.3" r="3.5" fill="url(#sg)"/>
<circle cx="99.9" cy="427.6" r="3.5" fill="url(#sr)"/>
<text x="110.70" y="421.00" font-size="8" font-weight="bold" text-anchor="start" fill="#000" >Photocurrent</text>
<text x="110.70" y="430.50" font-size="8" font-weight="bold" text-anchor="start" fill="#000" >Photoresponsivity</text>
<text x="117.5" y="494.6" font-size="13" font-weight="bold" text-anchor="middle">Light intensity (mV/cm<tspan dy="-4.5" font-size="9">2</tspan><tspan dy="4.5">)</tspan></text>
<text transform="translate(10.00,409.70) rotate(-90)" x="0" y="0" font-size="13" font-weight="bold" text-anchor="middle" fill="#000" >Photocurrent (A)</text>
<text transform="translate(217.80,416.40) rotate(-90)" x="0" y="0" font-size="11.6" font-weight="bold" text-anchor="middle" fill="#f52a2a" >Photoresponsivity (mA/W)</text>
<line x1="275.00" y1="407.70" x2="430.70" y2="407.70" stroke="#000" stroke-width="1.6" />
<polyline points="289.46,396.88 301.29,371.17 321.95,370.63 352.88,370.09 418.42,395.99" fill="none" stroke="#4a66f4" stroke-width="1.3" stroke-linejoin="round" stroke-linecap="round" />
<polyline points="289.46,397.06 301.29,380.63 321.95,377.77 352.88,351.70 418.42,394.21" fill="none" stroke="#f04a4a" stroke-width="1.1" stroke-linejoin="round" stroke-linecap="round" />
<rect x="285.22" y="394.78" width="4.2" height="4.2" fill="#fff" fill-opacity="0.6" stroke="#4a66f4" stroke-width="0.8" stroke-opacity="0.75"/>
<path d="M285.22,396.88H289.43M287.32,394.78V398.98" stroke="#4a66f4" stroke-width="0.5" stroke-opacity="0.6"/>
<rect x="287.36" y="394.78" width="4.2" height="4.2" fill="#fff" fill-opacity="0.6" stroke="#4a66f4" stroke-width="0.8" stroke-opacity="0.75"/>
<path d="M287.36,396.88H291.56M289.46,394.78V398.98" stroke="#4a66f4" stroke-width="0.5" stroke-opacity="0.6"/>
<rect x="299.19" y="369.07" width="4.2" height="4.2" fill="#fff" fill-opacity="0.6" stroke="#4a66f4" stroke-width="0.8" stroke-opacity="0.75"/>
<path d="M299.19,371.17H303.39M301.29,369.07V373.27" stroke="#4a66f4" stroke-width="0.5" stroke-opacity="0.6"/>
<rect x="319.85" y="368.53" width="4.2" height="4.2" fill="#fff" fill-opacity="0.6" stroke="#4a66f4" stroke-width="0.8" stroke-opacity="0.75"/>
<path d="M319.85,370.63H324.05M321.95,368.53V372.73" stroke="#4a66f4" stroke-width="0.5" stroke-opacity="0.6"/>
<rect x="350.77" y="367.99" width="4.2" height="4.2" fill="#fff" fill-opacity="0.6" stroke="#4a66f4" stroke-width="0.8" stroke-opacity="0.75"/>
<path d="M350.77,370.09H354.98M352.88,367.99V372.19" stroke="#4a66f4" stroke-width="0.5" stroke-opacity="0.6"/>
<rect x="416.32" y="393.89" width="4.2" height="4.2" fill="#fff" fill-opacity="0.6" stroke="#4a66f4" stroke-width="0.8" stroke-opacity="0.75"/>
<path d="M416.32,395.99H420.52M418.42,393.89V398.09" stroke="#4a66f4" stroke-width="0.5" stroke-opacity="0.6"/>
<rect x="285.22" y="394.43" width="4.2" height="4.2" fill="#fff" fill-opacity="0.6" stroke="#f04a4a" stroke-width="0.8" stroke-opacity="0.75"/>
<path d="M285.22,396.53H289.43M287.32,394.43V398.63" stroke="#f04a4a" stroke-width="0.5" stroke-opacity="0.6"/>
<rect x="287.36" y="394.96" width="4.2" height="4.2" fill="#fff" fill-opacity="0.6" stroke="#f04a4a" stroke-width="0.8" stroke-opacity="0.75"/>
<path d="M287.36,397.06H291.56M289.46,394.96V399.16" stroke="#f04a4a" stroke-width="0.5" stroke-opacity="0.6"/>
<rect x="299.19" y="378.53" width="4.2" height="4.2" fill="#fff" fill-opacity="0.6" stroke="#f04a4a" stroke-width="0.8" stroke-opacity="0.75"/>
<path d="M299.19,380.63H303.39M301.29,378.53V382.73" stroke="#f04a4a" stroke-width="0.5" stroke-opacity="0.6"/>
<rect x="319.85" y="375.67" width="4.2" height="4.2" fill="#fff" fill-opacity="0.6" stroke="#f04a4a" stroke-width="0.8" stroke-opacity="0.75"/>
<path d="M319.85,377.77H324.05M321.95,375.67V379.87" stroke="#f04a4a" stroke-width="0.5" stroke-opacity="0.6"/>
<rect x="350.77" y="349.60" width="4.2" height="4.2" fill="#fff" fill-opacity="0.6" stroke="#f04a4a" stroke-width="0.8" stroke-opacity="0.75"/>
<path d="M350.77,351.70H354.98M352.88,349.60V353.80" stroke="#f04a4a" stroke-width="0.5" stroke-opacity="0.6"/>
<rect x="416.32" y="392.11" width="4.2" height="4.2" fill="#fff" fill-opacity="0.6" stroke="#f04a4a" stroke-width="0.8" stroke-opacity="0.75"/>
<path d="M416.32,394.21H420.52M418.42,392.11V396.31" stroke="#f04a4a" stroke-width="0.5" stroke-opacity="0.6"/>
<polyline points="289.46,421.00 301.29,431.35 321.95,434.93 352.88,461.54 418.42,421.00" fill="none" stroke="#3d86e6" stroke-width="1.1" stroke-linejoin="round" stroke-linecap="round" />
<polyline points="289.46,421.00 301.29,439.03 321.95,442.43 352.88,444.21 418.42,419.74" fill="none" stroke="#f04a4a" stroke-width="1.1" stroke-linejoin="round" stroke-linecap="round" />
<circle cx="287.32" cy="418.67" r="2.2" fill="#fff" fill-opacity="0.6" stroke="#3d86e6" stroke-width="0.8" stroke-opacity="0.8"/>
<circle cx="289.46" cy="421.00" r="2.2" fill="#fff" fill-opacity="0.6" stroke="#3d86e6" stroke-width="0.8" stroke-opacity="0.8"/>
<circle cx="301.29" cy="431.35" r="2.2" fill="#fff" fill-opacity="0.6" stroke="#3d86e6" stroke-width="0.8" stroke-opacity="0.8"/>
<circle cx="321.95" cy="434.93" r="2.2" fill="#fff" fill-opacity="0.6" stroke="#3d86e6" stroke-width="0.8" stroke-opacity="0.8"/>
<circle cx="352.88" cy="461.54" r="2.2" fill="#fff" fill-opacity="0.6" stroke="#3d86e6" stroke-width="0.8" stroke-opacity="0.8"/>
<circle cx="418.42" cy="421.00" r="2.2" fill="#fff" fill-opacity="0.6" stroke="#3d86e6" stroke-width="0.8" stroke-opacity="0.8"/>
<circle cx="287.32" cy="418.67" r="2.2" fill="#fff" fill-opacity="0.6" stroke="#f04a4a" stroke-width="0.8" stroke-opacity="0.8"/>
<circle cx="289.46" cy="421.00" r="2.2" fill="#fff" fill-opacity="0.6" stroke="#f04a4a" stroke-width="0.8" stroke-opacity="0.8"/>
<circle cx="301.29" cy="439.03" r="2.2" fill="#fff" fill-opacity="0.6" stroke="#f04a4a" stroke-width="0.8" stroke-opacity="0.8"/>
<circle cx="321.95" cy="442.43" r="2.2" fill="#fff" fill-opacity="0.6" stroke="#f04a4a" stroke-width="0.8" stroke-opacity="0.8"/>
<circle cx="352.88" cy="444.21" r="2.2" fill="#fff" fill-opacity="0.6" stroke="#f04a4a" stroke-width="0.8" stroke-opacity="0.8"/>
<circle cx="418.42" cy="419.74" r="2.2" fill="#fff" fill-opacity="0.6" stroke="#f04a4a" stroke-width="0.8" stroke-opacity="0.8"/>
<rect x="275.00" y="345.00" width="155.70" height="125.60" fill="none" stroke="#000" stroke-width="1.4"/>
<line x1="272.40" y1="407.60" x2="275.00" y2="407.60" stroke="#000" stroke-width="1" />
<text x="270.80" y="410.60" font-size="9" font-weight="bold" text-anchor="end" fill="#000" >0</text>
<line x1="272.40" y1="389.74" x2="275.00" y2="389.74" stroke="#000" stroke-width="1" />
<text x="270.80" y="392.74" font-size="9" font-weight="bold" text-anchor="end" fill="#000" >10</text>
<line x1="272.40" y1="425.46" x2="275.00" y2="425.46" stroke="#000" stroke-width="1" />
<text x="270.80" y="428.46" font-size="9" font-weight="bold" text-anchor="end" fill="#000" >10</text>
<line x1="272.40" y1="371.88" x2="275.00" y2="371.88" stroke="#000" stroke-width="1" />
<text x="270.80" y="374.88" font-size="9" font-weight="bold" text-anchor="end" fill="#000" >20</text>
<line x1="272.40" y1="443.32" x2="275.00" y2="443.32" stroke="#000" stroke-width="1" />
<text x="270.80" y="446.32" font-size="9" font-weight="bold" text-anchor="end" fill="#000" >20</text>
<line x1="272.40" y1="354.02" x2="275.00" y2="354.02" stroke="#000" stroke-width="1" />
<text x="270.80" y="357.02" font-size="9" font-weight="bold" text-anchor="end" fill="#000" >30</text>
<line x1="272.40" y1="461.18" x2="275.00" y2="461.18" stroke="#000" stroke-width="1" />
<text x="270.80" y="464.18" font-size="9" font-weight="bold" text-anchor="end" fill="#000" >30</text>
<line x1="273.60" y1="398.67" x2="275.00" y2="398.67" stroke="#000" stroke-width="0.8" />
<line x1="273.60" y1="416.53" x2="275.00" y2="416.53" stroke="#000" stroke-width="0.8" />
<line x1="273.60" y1="380.81" x2="275.00" y2="380.81" stroke="#000" stroke-width="0.8" />
<line x1="273.60" y1="434.39" x2="275.00" y2="434.39" stroke="#000" stroke-width="0.8" />
<line x1="273.60" y1="362.95" x2="275.00" y2="362.95" stroke="#000" stroke-width="0.8" />
<line x1="273.60" y1="452.25" x2="275.00" y2="452.25" stroke="#000" stroke-width="0.8" />
<line x1="273.60" y1="345.09" x2="275.00" y2="345.09" stroke="#000" stroke-width="0.8" />
<line x1="273.60" y1="470.11" x2="275.00" y2="470.11" stroke="#000" stroke-width="0.8" />
<line x1="274.50" y1="470.60" x2="274.50" y2="473.20" stroke="#000" stroke-width="1" />
<text x="274.50" y="481.00" font-size="9" font-weight="bold" text-anchor="middle" fill="#000" >300</text>
<line x1="303.00" y1="470.60" x2="303.00" y2="473.20" stroke="#000" stroke-width="1" />
<text x="303.00" y="481.00" font-size="9" font-weight="bold" text-anchor="middle" fill="#000" >500</text>
<line x1="331.50" y1="470.60" x2="331.50" y2="473.20" stroke="#000" stroke-width="1" />
<text x="331.50" y="481.00" font-size="9" font-weight="bold" text-anchor="middle" fill="#000" >700</text>
<line x1="360.00" y1="470.60" x2="360.00" y2="473.20" stroke="#000" stroke-width="1" />
<text x="360.00" y="481.00" font-size="9" font-weight="bold" text-anchor="middle" fill="#000" >900</text>
<line x1="388.50" y1="470.60" x2="388.50" y2="473.20" stroke="#000" stroke-width="1" />
<text x="388.50" y="481.00" font-size="9" font-weight="bold" text-anchor="middle" fill="#000" >1100</text>
<line x1="417.00" y1="470.60" x2="417.00" y2="473.20" stroke="#000" stroke-width="1" />
<text x="417.00" y="481.00" font-size="9" font-weight="bold" text-anchor="middle" fill="#000" >1300</text>
<line x1="288.75" y1="470.60" x2="288.75" y2="472.10" stroke="#000" stroke-width="0.8" />
<line x1="317.25" y1="470.60" x2="317.25" y2="472.10" stroke="#000" stroke-width="0.8" />
<line x1="345.75" y1="470.60" x2="345.75" y2="472.10" stroke="#000" stroke-width="0.8" />
<line x1="374.25" y1="470.60" x2="374.25" y2="472.10" stroke="#000" stroke-width="0.8" />
<line x1="402.75" y1="470.60" x2="402.75" y2="472.10" stroke="#000" stroke-width="0.8" />
<text x="352.60" y="494.70" font-size="13" font-weight="bold" text-anchor="middle" fill="#000" >Wavelength (nm)</text>
<text transform="translate(255.40,416.20) rotate(-90)" x="0" y="0" font-size="11.4" font-weight="bold" text-anchor="middle" fill="#000" >Photoresponsivity (mA/W)</text>
<line x1="316.20" y1="390.60" x2="333.40" y2="390.60" stroke="#4a66f4" stroke-width="1.3" />
<rect x="322.50" y="388.50" width="4.2" height="4.2" fill="#fff" fill-opacity="0.6" stroke="#4a66f4" stroke-width="0.8" stroke-opacity="0.75"/>
<path d="M322.50,390.60H326.70M324.60,388.50V392.70" stroke="#4a66f4" stroke-width="0.5" stroke-opacity="0.6"/>
<line x1="316.20" y1="400.60" x2="333.40" y2="400.60" stroke="#f04a4a" stroke-width="1.1" />
<rect x="322.50" y="398.50" width="4.2" height="4.2" fill="#fff" fill-opacity="0.6" stroke="#f04a4a" stroke-width="0.8" stroke-opacity="0.75"/>
<path d="M322.50,400.60H326.70M324.60,398.50V402.70" stroke="#f04a4a" stroke-width="0.5" stroke-opacity="0.6"/>
<text x="337.4" y="393.4" font-size="8.2" font-weight="bold"><tspan font-style="italic">L</tspan>-Cys-Se_LCP</text>
<text x="337.4" y="403.2" font-size="8.2" font-weight="bold"><tspan font-style="italic">L</tspan>-Cys-Se_RCP</text>
<line x1="315.90" y1="414.80" x2="333.40" y2="414.80" stroke="#3d86e6" stroke-width="1.1" />
<circle cx="324.50" cy="414.80" r="2.2" fill="#fff" fill-opacity="0.6" stroke="#3d86e6" stroke-width="0.8" stroke-opacity="0.8"/>
<line x1="315.90" y1="424.20" x2="333.40" y2="424.20" stroke="#f04a4a" stroke-width="1.1" />
<circle cx="324.50" cy="424.20" r="2.2" fill="#fff" fill-opacity="0.6" stroke="#f04a4a" stroke-width="0.8" stroke-opacity="0.8"/>
<text x="337.0" y="417.6" font-size="8.2" font-weight="bold"><tspan font-style="italic">D</tspan>-Cys-Se_LCP</text>
<text x="337.0" y="427.0" font-size="8.2" font-weight="bold"><tspan font-style="italic">D</tspan>-Cys-Se_RCP</text>
<polyline points="475.30,412.13 475.46,412.24 475.62,413.04 475.78,413.20 475.94,412.94 476.10,413.14 476.25,413.21 476.41,413.72 476.56,413.68 476.72,413.61 476.88,414.28 477.03,414.47 477.19,414.01 477.36,414.46 477.52,414.45 477.69,414.90 477.86,414.87 478.04,414.98 478.22,415.15 478.41,415.52 478.60,415.60 478.80,415.75 479.00,416.05 479.21,416.08 479.42,416.59 479.64,416.41 479.86,416.84 480.08,417.12 480.31,417.08 480.54,417.24 480.77,417.55 481.00,417.67 481.24,417.47 481.47,417.79 481.70,417.76 481.94,417.81 482.17,418.41 482.41,418.28 482.64,418.34 482.87,418.28 483.10,418.37 483.33,418.89 483.55,418.74 483.78,418.86 484.00,419.09 484.22,419.30 484.45,419.19 484.67,418.89 484.89,419.46 485.12,418.91 485.34,419.20 485.57,419.25 485.80,418.99 486.03,419.39 486.26,419.17 486.49,419.20 486.73,418.75 486.97,419.18 487.21,418.73 487.45,418.88 487.70,418.87 487.95,418.46 488.21,418.29 488.47,418.19 488.73,418.47 488.99,418.07 489.26,417.74 489.53,417.60 489.80,417.45 490.08,416.95 490.35,416.59 490.63,416.38 490.90,416.48 491.18,416.25 491.45,416.29 491.73,415.81 492.01,415.75 492.28,415.62 492.56,415.08 492.83,414.83 493.10,414.68 493.37,414.44 493.64,414.54 493.91,414.24 494.18,413.76 494.46,414.18 494.73,413.73 495.00,413.73 495.27,413.43 495.55,413.31 495.82,413.15 496.09,412.68 496.36,412.55 496.63,412.83 496.90,412.42 497.17,412.12 497.44,412.47 497.71,412.28 497.97,412.16 498.24,411.76 498.50,411.44 498.77,411.75 499.04,411.25 499.31,411.46 499.59,411.38 499.87,410.99 500.15,410.71 500.43,411.03 500.71,411.09 500.98,410.86 501.26,411.05 501.53,410.42 501.79,410.67 502.05,410.36 502.30,410.34 502.54,410.02 502.78,409.83 503.00,409.90 503.21,409.77 503.41,409.79 503.60,409.37 503.77,409.08 503.93,408.95 504.07,408.70 504.20,408.30 504.32,407.94 504.43,407.97 504.53,407.49 504.62,406.96 504.71,406.76 504.79,406.58 504.87,406.50 504.95,406.15 505.03,405.69 505.11,405.57 505.20,404.87 505.28,404.51 505.38,404.41 505.48,403.96 505.58,403.37 505.70,403.27 505.82,402.22 505.95,402.11 506.08,401.85 506.22,401.35 506.35,400.34 506.49,400.22 506.63,399.47 506.77,399.18 506.92,398.18 507.06,397.83 507.21,397.23 507.35,396.89 507.50,395.85 507.65,395.30 507.79,394.54 507.94,394.36 508.08,393.38 508.22,393.38 508.36,392.36 508.50,391.88 508.64,391.92 508.77,391.10 508.91,390.78 509.05,390.00 509.18,389.43 509.32,389.03 509.45,388.97 509.59,387.93 509.72,387.95 509.86,387.47 509.99,386.86 510.12,386.12 510.26,386.00 510.39,385.69 510.53,385.05 510.66,384.39 510.80,384.26 510.93,384.13 511.07,383.51 511.20,382.85 511.33,382.56 511.47,382.54 511.60,381.83 511.74,381.51 511.88,381.49 512.01,381.14 512.14,381.04 512.28,380.50 512.41,380.61 512.55,380.47 512.68,380.00 512.82,379.98 512.95,379.75 513.09,379.75 513.23,379.42 513.36,379.29 513.50,379.08 513.63,379.11 513.76,378.46 513.90,378.33 514.03,378.73 514.17,378.58 514.30,377.89 514.43,378.41 514.55,378.11 514.68,378.20 514.81,378.02 514.94,377.72 515.06,377.48 515.19,377.89 515.32,377.81 515.46,377.61 515.59,377.45 515.72,377.50 515.86,377.89 516.00,377.57 516.15,377.40 516.29,377.97 516.44,377.99 516.60,377.47 516.76,377.54 516.92,377.99 517.08,377.83 517.25,377.99 517.42,378.25 517.59,378.09 517.76,378.44 517.93,378.31 518.11,378.47 518.29,378.86 518.47,378.93 518.65,379.42 518.84,379.06 519.03,379.77 519.22,379.47 519.41,379.69 519.60,379.69 519.80,379.99 520.00,380.60 520.20,380.30 520.40,380.77 520.61,381.01 520.83,380.95 521.04,380.74 521.26,381.06 521.48,381.02 521.70,381.22 521.93,381.43 522.16,381.45 522.39,381.96 522.62,381.99 522.85,381.97 523.08,382.08 523.31,382.14 523.55,382.25 523.78,382.60 524.01,382.47 524.24,382.90 524.47,382.82 524.70,383.29 524.93,383.03 525.15,383.53 525.38,383.68 525.60,383.74 525.82,383.31 526.05,383.86 526.27,383.60 526.49,383.94 526.72,383.70 526.94,383.80 527.17,383.66 527.40,384.06 527.63,383.84 527.86,384.26 528.09,384.21 528.33,384.08 528.57,383.88 528.81,384.14 529.05,384.34 529.30,384.41 529.55,384.67 529.82,384.40 530.08,384.85 530.36,385.29 530.64,385.48 530.92,385.45 531.20,385.61 531.49,385.71 531.78,386.15 532.06,386.17 532.35,386.11 532.63,386.30 532.91,386.78 533.19,386.68 533.46,386.88 533.72,386.84 533.98,387.26 534.23,387.29 534.47,387.76 534.70,387.95 534.92,388.09 535.14,388.19 535.35,387.68 535.55,387.82 535.75,388.13 535.94,388.58 536.13,388.51 536.31,388.41 536.49,388.41 536.67,388.63 536.84,388.66 537.01,388.80 537.18,389.34 537.34,389.09 537.51,389.21 537.67,389.68 537.83,389.49 537.98,390.16 538.14,390.21 538.30,390.56 538.46,390.66 538.61,390.88 538.76,390.78 538.90,391.12 539.05,391.33 539.19,391.59 539.32,392.20 539.46,392.13 539.59,392.65 539.73,392.80 539.86,392.70 539.98,393.07 540.11,393.62 540.24,394.06 540.37,393.97 540.49,394.28 540.62,394.68 540.75,395.04 540.87,395.33 541.00,396.00 541.13,396.10 541.26,396.20 541.38,396.59 541.51,397.06 541.64,397.18 541.77,397.71 541.89,397.85 542.02,398.64 542.14,399.17 542.27,399.57 542.39,399.75 542.51,399.98 542.63,400.49 542.75,400.86 542.86,400.97 542.98,401.60 543.09,401.94 543.19,402.09 543.30,402.62 543.40,403.24 543.50,403.43 543.59,403.54 543.67,403.80 543.76,404.39 543.84,404.65 543.91,404.78 543.98,405.20 544.05,405.46 544.12,405.91 544.19,406.39 544.26,406.34 544.33,406.75 544.41,407.07 544.48,407.46 544.56,407.47 544.64,407.79 544.72,408.58 544.81,408.37 544.90,409.08 545.00,409.13 545.11,409.65 545.22,409.99 545.33,410.21 545.45,410.54 545.57,411.48 545.70,411.23 545.82,411.69 545.95,412.51 546.09,412.65 546.22,412.93 546.35,413.74 546.49,414.28 546.62,414.14 546.75,414.89 546.88,415.06 547.01,415.87 547.14,415.97 547.26,416.55 547.38,416.76 547.50,416.74 547.61,417.31 547.72,417.84 547.83,417.80 547.94,418.10 548.05,419.07 548.15,419.35 548.25,419.49 548.35,419.41 548.46,420.18 548.56,420.70 548.66,420.88 548.76,421.15 548.86,421.27 548.96,421.71 549.06,422.22 549.17,422.22 549.27,422.23 549.38,422.57 549.49,423.43 549.60,423.55 549.71,423.99 549.83,423.72 549.95,423.97 550.07,424.65 550.19,424.75 550.31,425.04 550.43,425.15 550.56,425.79 550.68,426.06 550.81,426.28 550.93,426.32 551.05,426.62 551.18,426.80 551.30,427.09 551.42,427.23 551.54,427.57 551.66,428.15 551.77,428.26 551.89,428.02 552.00,428.62 552.11,428.94 552.21,428.82 552.32,429.41 552.42,429.64 552.52,429.23 552.61,429.81 552.71,429.83 552.80,430.08 552.90,430.32 552.99,430.71 553.09,430.73 553.18,431.09 553.28,430.81 553.38,431.37 553.47,431.26 553.57,431.29 553.68,431.89 553.78,431.91 553.89,431.83 554.00,432.48 554.11,432.37 554.23,432.67 554.35,433.06 554.48,432.77 554.60,433.09 554.73,433.26 554.86,433.24 554.99,433.58 555.12,434.05 555.25,434.03 555.38,433.89 555.51,434.34 555.64,434.46 555.77,434.45 555.90,434.82 556.02,434.77 556.15,435.22 556.27,435.10 556.39,435.57 556.50,435.36 556.61,435.43 556.72,435.70 556.83,435.71 556.93,436.38 557.04,436.62 557.14,436.36 557.24,436.39 557.34,436.98 557.44,437.11 557.54,436.83 557.63,437.03 557.73,437.31 557.83,437.21 557.92,437.42 558.02,437.70 558.11,437.67 558.21,437.84 558.31,438.33 558.40,438.29 558.50,438.89 558.60,439.10 558.69,439.08 558.78,439.00 558.87,439.53 558.96,439.44 559.05,440.01 559.14,439.91 559.23,440.30 559.32,440.55 559.41,440.73 559.50,440.97 559.59,440.18 559.68,439.40 559.77,440.72 559.87,443.99 559.97,439.39 560.07,440.85 560.18,441.17 560.29,442.03 560.40,444.43 560.52,440.95 560.63,440.74 560.75,440.43 560.87,442.24 561.00,444.38 561.12,443.08 561.25,444.20 561.38,443.62 561.51,442.94 561.64,443.29 561.78,441.50 561.92,446.35 562.06,445.32 562.20,442.13 562.34,442.79 562.49,445.93 562.64,444.62 562.79,446.01 562.94,446.16 563.10,443.16 563.26,446.83 563.43,443.75 563.61,443.58 563.79,446.90 563.98,447.41 564.17,444.90 564.37,445.50 564.56,447.47 564.76,445.35 564.96,446.31 565.15,449.33 565.35,445.02 565.54,449.43 565.72,449.32 565.91,450.08 566.08,446.36 566.25,446.31 566.41,447.76 566.56,446.58 566.70,450.71 566.83,449.09 566.95,450.75 567.07,449.20 567.18,449.52 567.28,452.20 567.37,448.19 567.46,449.03 567.55,452.63 567.63,451.56 567.71,452.87 567.79,454.29 567.87,453.42 567.94,452.85 568.02,453.85 568.09,452.94 568.17,451.53 568.25,452.26 568.33,455.53 568.41,453.57 568.50,451.07 568.59,454.27 568.68,456.09 568.77,454.13 568.86,453.36 568.95,453.06 569.04,453.84 569.13,453.60 569.22,452.77 569.31,454.74 569.40,454.45 569.49,453.69 569.58,453.18 569.67,452.93 569.76,450.00 569.85,451.32 569.94,449.95 570.03,449.44 570.12,453.14 570.21,449.24 570.30,452.14 570.39,452.11 570.48,449.76 570.56,447.66 570.65,448.33 570.73,450.65 570.81,450.86 570.89,448.90 570.98,450.06 571.06,447.68 571.14,450.15 571.23,450.69 571.32,450.60 571.40,449.36 571.49,449.33 571.59,446.27 571.68,447.56 571.78,448.21 571.88,446.40 571.99,446.34 572.10,450.88 572.21,449.40 572.33,448.73 572.46,449.36 572.58,450.27 572.71,449.04 572.84,447.96 572.98,447.77 573.12,450.78 573.25,450.70 573.39,446.53 573.53,450.00 573.68,449.10 573.82,447.54 573.96,449.37 574.10,447.18 574.25,449.61 574.39,448.62 574.53,448.73 574.66,445.94 574.80,450.30 574.94,450.51 575.07,449.44 575.21,446.93 575.34,449.09 575.48,445.86 575.62,448.01 575.75,446.88 575.89,447.44 576.03,447.35 576.16,447.09 576.30,447.25 576.43,447.00 576.57,446.85 576.70,446.85 576.84,446.60 576.97,446.42 577.11,446.97 577.24,446.21 577.37,446.69 577.50,446.24 577.63,445.92 577.75,446.02 577.87,445.95 577.99,445.51 578.11,445.72 578.22,445.21 578.34,445.28 578.45,445.44 578.57,445.40 578.68,444.79 578.80,444.82 578.92,445.06 579.04,444.48 579.16,444.21 579.29,444.16 579.42,444.46 579.56,443.97 579.70,444.06 579.85,444.13 580.00,443.79 580.16,443.37 580.33,443.46 580.50,443.24 580.68,443.25 580.86,443.24 581.05,443.40 581.24,443.10 581.43,442.88 581.63,443.00 581.83,442.69 582.02,442.37 582.22,442.60 582.43,442.22 582.63,442.07 582.83,442.08 583.03,442.03 583.22,441.59 583.42,441.69 583.61,441.97 583.80,441.51 583.99,441.25 584.18,441.14 584.37,441.14 584.56,440.82 584.75,440.56 584.94,440.48 585.13,440.07 585.33,440.15 585.52,439.76 585.71,439.74 585.90,439.28 586.08,439.27 586.27,438.75 586.45,438.75 586.63,438.55 586.81,438.01 586.99,437.89 587.16,437.93 587.33,437.96 587.50,437.82 587.66,437.67 587.81,437.49 587.96,437.46 588.09,436.78 588.23,436.61 588.35,436.47 588.48,436.80 588.60,436.26 588.73,436.22 588.85,435.97 588.98,436.38 589.11,435.76 589.24,435.64 589.38,435.75 589.52,435.68 589.68,435.05 589.84,435.25 590.02,435.03 590.20,434.85 590.40,434.61 590.61,434.58 590.83,434.35 591.07,434.11 591.31,433.46 591.56,432.98 591.82,432.98 592.08,432.36 592.35,432.48 592.63,432.05 592.91,431.92 593.19,431.65 593.47,431.26 593.76,430.91 594.04,430.34 594.33,430.30 594.61,429.93 594.89,429.34 595.16,429.50 595.43,428.95 595.70,428.72 595.96,428.23 596.22,428.43 596.49,427.94 596.75,427.89 597.01,427.73 597.27,427.29 597.53,427.11 597.79,426.81 598.05,426.44 598.31,426.62 598.57,426.50 598.82,425.66 599.08,425.45 599.34,425.54 599.60,425.05 599.86,425.09 600.12,424.79 600.38,424.49 600.64,424.63 600.90,424.26 601.16,424.25 601.42,423.48 601.68,423.36 601.94,423.26 602.20,423.10 602.46,422.59 602.72,422.15 602.98,422.02 603.24,421.87 603.50,421.88 603.76,421.38 604.02,421.24 604.28,420.96 604.54,420.41 604.80,420.19 605.06,420.16 605.32,419.82 605.58,419.33 605.84,418.93 606.10,419.06 606.36,418.51 606.62,418.26 606.88,418.01 607.14,418.09 607.40,417.84 607.66,417.82 607.92,417.36 608.18,417.06 608.43,417.13 608.69,416.39 608.95,416.49 609.21,416.55 609.47,415.88 609.73,415.53 609.99,415.29 610.25,415.00 610.51,415.27 610.78,414.81 611.04,414.86 611.30,414.63 611.57,413.82 611.84,413.76 612.12,413.46 612.40,413.19 612.68,412.74 612.97,412.62 613.26,412.39 613.54,412.18 613.83,411.95 614.11,411.98 614.39,411.09 614.67,410.83 614.94,411.09 615.21,410.40 615.46,410.32 615.71,409.91 615.95,410.09 616.18,409.90 616.40,409.44 616.60,408.92 616.79,408.94 616.96,409.02 617.11,408.79 617.25,408.47 617.38,408.45 617.50,408.12 617.61,408.27 617.71,408.49 617.81,408.11 617.91,408.10 618.00,407.82 618.10,408.13 618.21,407.85 618.31,407.76 618.43,407.95 618.56,407.53 618.69,407.28 618.85,407.56 619.01,407.51 619.20,406.89 619.40,406.94 619.61,407.15 619.84,406.71 620.07,406.46 620.32,406.07 620.57,405.98 620.83,405.98 621.09,406.00 621.36,405.62 621.64,405.62 621.92,405.01 622.20,404.56 622.48,404.53 622.76,404.34 623.04,403.92 623.32,403.73 623.60,404.12 623.87,403.92 624.14,403.21 624.40,403.01 624.66,403.48 624.92,402.76 625.18,402.71 625.44,402.52 625.70,402.37 625.96,402.12 626.22,402.30 626.48,402.39 626.74,401.78 627.00,401.96 627.26,401.59 627.52,401.93 627.78,401.89 628.04,401.75 628.30,401.39 628.56,400.99 628.82,401.27 629.08,400.68 629.34,401.04 629.60,400.56 629.86,400.82 630.12,400.24 630.38,400.40 630.64,400.06 630.90,399.71 631.16,399.71 631.42,399.50 631.68,399.13 631.93,399.22 632.19,399.04 632.45,398.98 632.71,398.55 632.97,398.57 633.23,398.11 633.49,398.17 633.75,397.81 634.01,398.03 634.28,397.46 634.54,397.39 634.80,397.10 635.06,397.13 635.33,397.18 635.60,396.85 635.87,396.66 636.15,397.10 636.42,396.59 636.70,396.43 636.97,396.46 637.25,396.68 637.52,396.53 637.79,396.55 638.06,396.21 638.33,395.98 638.60,396.00 638.86,395.60 639.12,395.95 639.37,395.96 639.62,395.91 639.86,395.74 640.10,395.50 640.33,395.50 640.56,395.02 640.78,395.09 641.00,394.68 641.21,395.10 641.42,394.67 641.62,394.31 641.83,394.74 642.03,394.36 642.23,393.94 642.42,394.25 642.62,393.96 642.81,393.82 643.01,393.86 643.20,393.34 643.40,393.17 643.60,393.24 643.80,392.86 644.00,393.07 644.20,392.80" fill="none" stroke="#ee5a5a" stroke-width="1.9" stroke-linejoin="round" stroke-linecap="round" />
<polyline points="475.30,403.88 475.46,403.51 475.62,403.28 475.78,403.13 475.94,403.24 476.10,403.30 476.25,403.04 476.41,402.90 476.56,402.53 476.72,402.51 476.88,402.01 477.03,401.85 477.19,402.05 477.36,401.42 477.52,401.50 477.69,401.28 477.86,400.73 478.04,400.91 478.22,400.88 478.41,400.76 478.60,400.24 478.80,400.38 479.01,399.58 479.22,399.97 479.44,399.60 479.66,399.47 479.89,398.99 480.12,398.86 480.35,398.79 480.59,398.14 480.82,397.89 481.06,398.07 481.30,397.94 481.54,397.27 481.77,397.30 482.00,397.08 482.23,396.76 482.46,396.96 482.68,396.41 482.89,396.62 483.10,396.24 483.30,395.94 483.51,396.42 483.71,395.76 483.91,395.65 484.10,395.53 484.30,395.70 484.49,395.42 484.69,395.47 484.88,395.99 485.06,395.48 485.25,395.79 485.43,395.42 485.61,395.28 485.79,395.27 485.96,395.36 486.14,395.95 486.31,395.61 486.47,395.48 486.64,395.36 486.80,395.80 486.96,395.60 487.11,395.53 487.25,395.74 487.39,395.97 487.52,395.76 487.66,395.96 487.78,395.75 487.91,396.07 488.03,395.77 488.16,396.46 488.28,396.54 488.40,396.37 488.53,396.39 488.66,396.43 488.79,396.77 488.92,396.76 489.06,396.97 489.20,396.90 489.35,397.00 489.50,397.36 489.66,397.12 489.82,397.39 489.97,397.48 490.13,397.63 490.29,398.28 490.46,398.08 490.62,398.58 490.79,398.30 490.96,399.13 491.13,399.02 491.31,399.43 491.49,399.20 491.67,399.77 491.86,400.14 492.05,399.99 492.25,400.08 492.45,400.49 492.66,400.98 492.88,401.18 493.10,400.89 493.33,401.28 493.57,401.90 493.82,401.66 494.08,401.73 494.34,402.49 494.62,402.66 494.89,402.61 495.17,403.00 495.46,403.24 495.74,403.51 496.03,403.26 496.32,403.85 496.60,404.19 496.89,404.29 497.17,404.30 497.45,404.40 497.72,405.00 497.99,405.19 498.25,405.24 498.50,405.20 498.75,405.64 499.00,405.79 499.25,405.69 499.50,405.57 499.75,406.06 500.00,405.86 500.25,406.14 500.49,406.44 500.74,406.53 500.98,406.76 501.21,407.01 501.44,407.23 501.66,406.91 501.88,407.49 502.09,407.18 502.29,407.33 502.48,407.75 502.66,408.05 502.84,407.86 503.00,408.21 503.15,408.37 503.29,408.15 503.42,408.48 503.53,408.83 503.64,408.30 503.74,408.48 503.83,409.12 503.91,409.02 503.99,409.03 504.06,409.42 504.13,409.30 504.20,409.23 504.27,409.52 504.34,409.97 504.41,410.06 504.48,410.15 504.55,410.01 504.63,410.93 504.71,410.53 504.80,410.94 504.89,411.59 504.99,412.01 505.08,412.16 505.18,412.29 505.27,412.90 505.37,413.22 505.46,413.54 505.56,414.09 505.65,414.34 505.75,414.75 505.85,414.98 505.94,415.78 506.04,415.76 506.13,416.20 506.23,417.04 506.32,417.09 506.42,418.14 506.51,418.14 506.61,418.80 506.70,419.13 506.79,419.77 506.88,420.36 506.97,420.57 507.05,421.32 507.14,422.15 507.22,422.10 507.30,422.69 507.38,423.21 507.47,423.70 507.55,424.19 507.63,425.41 507.72,425.97 507.81,425.89 507.90,427.00 507.99,427.39 508.08,427.69 508.18,428.72 508.28,428.74 508.39,429.65 508.50,430.22 508.61,430.79 508.73,431.03 508.86,431.54 508.98,432.45 509.11,432.80 509.24,433.61 509.38,434.29 509.52,434.39 509.65,435.46 509.79,436.22 509.93,436.40 510.08,437.08 510.22,437.47 510.36,438.40 510.50,438.47 510.65,438.89 510.79,439.66 510.93,440.09 511.06,440.63 511.20,440.79 511.33,441.70 511.47,441.81 511.60,442.08 511.74,442.69 511.88,442.54 512.01,443.49 512.14,443.75 512.28,443.64 512.41,444.07 512.55,444.06 512.68,444.85 512.82,445.22 512.95,445.20 513.09,445.69 513.23,445.54 513.36,446.01 513.50,446.18 513.63,446.40 513.76,446.23 513.90,446.41 514.03,446.20 514.17,446.95 514.30,446.44 514.43,446.86 514.55,446.94 514.68,446.68 514.81,446.84 514.94,446.82 515.06,446.62 515.19,446.89 515.32,446.86 515.46,447.07 515.59,447.02 515.72,447.15 515.86,447.04 516.00,446.55 516.15,446.72 516.29,446.71 516.44,446.69 516.60,446.15 516.76,446.18 516.92,446.27 517.08,445.93 517.25,446.20 517.42,445.69 517.59,445.73 517.76,445.10 517.93,445.50 518.11,445.36 518.29,445.15 518.47,444.51 518.65,444.65 518.84,444.54 519.03,443.72 519.22,443.49 519.41,443.69 519.60,443.72 519.80,442.85 520.00,443.22 520.20,442.91 520.40,442.60 520.61,442.18 520.83,442.25 521.04,442.05 521.26,441.65 521.48,441.95 521.70,441.64 521.93,441.04 522.16,441.17 522.39,440.96 522.62,441.01 522.85,440.85 523.08,440.61 523.31,439.84 523.55,439.93 523.78,439.57 524.01,439.82 524.24,439.20 524.47,439.57 524.70,439.28 524.93,439.17 525.15,439.26 525.38,439.11 525.60,438.92 525.82,438.76 526.05,438.62 526.27,438.53 526.49,438.11 526.72,438.16 526.94,438.44 527.17,438.18 527.40,438.13 527.63,438.33 527.86,437.93 528.09,438.08 528.33,438.03 528.57,437.94 528.81,437.40 529.05,437.53 529.30,437.28 529.55,437.19 529.82,436.67 530.08,436.55 530.36,436.39 530.64,436.56 530.92,436.34 531.20,435.84 531.49,435.76 531.78,435.41 532.06,435.24 532.35,434.81 532.63,434.62 532.91,434.80 533.19,434.50 533.46,433.72 533.72,433.47 533.98,433.76 534.23,433.22 534.47,433.13 534.70,432.87 534.92,432.65 535.14,432.65 535.35,431.91 535.55,432.20 535.75,431.57 535.94,431.24 536.13,431.19 536.31,431.14 536.49,431.14 536.67,430.77 536.84,430.84 537.01,430.08 537.18,429.99 537.34,429.90 537.51,429.68 537.67,429.51 537.83,429.13 537.98,428.58 538.14,428.78 538.30,428.51 538.46,427.70 538.61,427.92 538.76,427.04 538.90,427.19 539.05,426.82 539.19,426.26 539.32,425.77 539.46,425.54 539.59,425.44 539.73,425.01 539.86,424.84 539.98,424.02 540.11,423.95 540.24,423.35 540.37,422.78 540.49,422.49 540.62,422.04 540.75,421.67 540.87,421.18 541.00,421.43 541.13,420.59 541.26,420.44 541.38,419.77 541.51,419.38 541.64,418.74 541.77,418.76 541.89,417.78 542.02,417.83 542.14,417.22 542.27,416.80 542.39,415.79 542.51,415.94 542.63,415.23 542.75,414.71 542.86,414.23 542.98,413.69 543.09,413.60 543.19,413.18 543.30,412.73 543.40,411.75 543.50,411.62 543.59,411.35 543.68,410.62 543.76,410.75 543.84,410.29 543.92,409.50 544.00,409.28 544.07,409.21 544.15,409.01 544.22,408.76 544.29,407.92 544.36,407.98 544.43,407.46 544.51,406.96 544.58,406.52 544.66,406.07 544.74,405.65 544.82,405.55 544.91,404.94 545.00,404.59 545.09,404.26 545.18,403.72 545.27,403.35 545.36,402.96 545.45,403.04 545.54,402.23 545.63,401.93 545.72,401.44 545.82,401.29 545.91,400.74 546.01,400.35 546.11,399.85 546.22,399.28 546.33,398.89 546.44,398.02 546.56,397.71 546.69,397.00 546.82,396.89 546.96,395.89 547.10,395.85 547.25,394.75 547.41,394.23 547.57,393.91 547.74,393.17 547.91,392.28 548.09,391.57 548.28,391.44 548.46,390.30 548.66,389.84 548.85,389.39 549.05,388.46 549.25,387.78 549.45,386.87 549.65,386.73 549.86,385.82 550.07,385.20 550.28,384.35 550.48,383.92 550.69,383.04 550.90,382.28 551.11,381.78 551.32,381.43 551.54,380.86 551.76,379.98 551.99,379.43 552.21,378.98 552.44,378.14 552.67,377.73 552.90,376.60 553.13,376.40 553.36,375.70 553.60,374.97 553.83,374.40 554.06,373.52 554.29,372.85 554.51,372.32 554.74,372.40 554.96,371.56 555.18,371.22 555.40,370.66 555.62,370.54 555.84,370.05 556.06,369.44 556.29,369.29 556.51,368.68 556.74,368.89 556.97,368.07 557.19,368.33 557.42,367.82 557.64,367.30 557.85,367.65 558.07,366.87 558.27,366.97 558.47,366.45 558.67,366.12 558.85,366.33 559.03,366.14 559.20,365.87 559.35,365.43 559.50,365.10 559.63,363.03 559.75,366.72 559.86,363.15 559.95,364.28 560.03,360.96 560.11,361.97 560.18,362.58 560.24,361.95 560.30,361.27 560.35,360.74 560.40,358.61 560.45,361.24 560.50,359.47 560.56,357.95 560.62,358.83 560.68,359.95 560.75,359.99 560.82,358.12 560.91,356.41 561.00,358.61 561.10,358.25 561.21,357.47 561.31,359.59 561.42,356.50 561.53,357.06 561.64,354.52 561.76,354.85 561.88,354.99 562.00,354.81 562.12,354.63 562.25,354.19 562.38,357.97 562.51,356.28 562.64,355.73 562.78,356.00 562.92,354.60 563.06,357.35 563.20,356.68 563.35,355.17 563.50,353.21 563.65,353.10 563.80,353.28 563.96,356.63 564.11,353.34 564.27,355.42 564.43,355.83 564.59,355.21 564.76,354.96 564.92,358.15 565.09,358.34 565.27,357.50 565.44,356.59 565.62,358.72 565.81,357.65 566.00,355.53 566.19,355.24 566.38,355.40 566.58,355.34 566.79,356.84 567.00,358.02 567.22,356.23 567.44,355.75 567.67,357.12 567.90,357.85 568.14,360.02 568.39,360.24 568.64,360.06 568.89,357.52 569.15,360.39 569.41,357.95 569.67,359.57 569.93,359.49 570.19,358.20 570.45,359.84 570.71,358.66 570.98,361.37 571.24,358.82 571.49,361.59 571.75,358.88 572.00,358.14 572.25,360.33 572.51,362.57 572.77,361.49 573.03,359.76 573.30,361.07 573.56,360.33 573.83,362.01 574.10,360.31 574.36,359.82 574.62,363.90 574.89,359.37 575.14,359.93 575.40,360.90 575.65,361.05 575.89,362.21 576.13,362.03 576.36,360.50 576.58,363.85 576.80,363.38 577.00,360.98 577.20,361.04 577.38,360.88 577.56,362.92 577.73,363.63 577.89,364.15 578.04,361.96 578.19,365.09 578.34,365.38 578.48,363.45 578.62,361.89 578.75,362.28 578.89,365.05 579.02,362.06 579.16,364.90 579.29,365.51 579.43,362.35 579.56,363.15 579.70,363.81 579.85,364.97 580.00,365.75 580.15,365.96 580.31,365.95 580.46,365.98 580.62,366.66 580.77,366.74 580.93,367.15 581.08,367.95 581.24,367.86 581.39,368.30 581.55,368.86 581.71,369.41 581.86,369.17 582.02,369.90 582.17,370.31 582.33,370.29 582.48,370.61 582.64,371.10 582.79,371.42 582.95,371.96 583.10,372.43 583.25,372.47 583.40,372.55 583.56,373.18 583.71,373.36 583.86,373.23 584.01,373.45 584.16,373.68 584.31,373.59 584.46,374.15 584.61,374.38 584.76,374.39 584.90,374.65 585.05,375.05 585.20,375.03 585.35,375.26 585.50,375.58 585.65,375.66 585.80,375.66 585.95,376.21 586.10,376.41 586.25,376.02 586.40,376.88 586.55,376.52 586.70,377.25 586.85,377.31 587.00,377.64 587.15,377.57 587.30,377.76 587.45,377.92 587.60,378.12 587.75,378.35 587.90,378.62 588.05,379.30 588.20,379.33 588.35,379.78 588.50,380.10 588.65,379.93 588.80,379.96 588.95,380.67 589.10,380.33 589.25,380.80 589.40,381.22 589.54,380.89 589.68,381.16 589.83,381.59 589.97,381.36 590.11,382.05 590.25,382.12 590.39,382.14 590.54,382.44 590.68,382.15 590.83,382.80 590.98,382.75 591.13,382.81 591.28,383.29 591.44,383.22 591.60,383.12 591.76,383.79 591.93,383.54 592.10,384.14 592.28,384.15 592.46,384.55 592.65,384.82 592.84,385.30 593.03,385.55 593.23,385.65 593.43,385.88 593.63,386.58 593.83,386.40 594.04,387.08 594.24,387.51 594.45,387.77 594.66,387.67 594.87,388.04 595.08,388.76 595.28,389.18 595.49,389.39 595.70,389.94 595.90,390.05 596.10,390.15 596.30,390.81 596.50,390.60 596.71,390.80 596.92,391.29 597.12,391.32 597.33,391.99 597.54,392.25 597.75,392.30 597.96,392.88 598.16,393.06 598.37,393.50 598.57,393.84 598.77,394.12 598.97,394.31 599.17,394.16 599.36,394.76 599.55,395.08 599.74,395.00 599.92,395.37 600.10,395.71 600.27,395.77 600.43,395.86 600.59,396.22 600.74,396.52 600.89,396.98 601.03,397.32 601.17,397.42 601.31,397.64 601.45,397.89 601.58,397.75 601.72,398.01 601.85,397.78 601.99,398.45 602.14,398.72 602.28,398.56 602.43,398.94 602.59,398.78 602.75,399.58 602.92,399.43 603.10,399.67 603.28,399.73 603.47,400.41 603.67,400.69 603.86,400.54 604.06,400.84 604.27,400.90 604.47,401.43 604.68,401.60 604.90,402.00 605.11,401.66 605.33,402.24 605.55,402.81 605.78,402.40 606.00,403.07 606.23,403.15 606.46,403.23 606.69,403.63 606.93,404.37 607.16,404.12 607.40,404.58 607.64,405.15 607.88,404.91 608.13,405.15 608.38,405.87 608.63,406.20 608.89,406.11 609.15,406.99 609.41,407.27 609.67,407.48 609.94,407.57 610.20,408.38 610.47,408.23 610.74,409.11 611.00,409.14 611.27,409.72 611.54,409.81 611.81,410.18 612.07,410.75 612.34,410.73 612.60,410.97 612.86,411.75 613.13,412.10 613.39,411.82 613.66,412.66 613.92,412.92 614.19,412.87 614.45,413.21 614.72,413.42 614.98,414.29 615.25,414.09 615.52,414.95 615.78,415.25 616.05,415.71 616.31,415.42 616.58,416.23 616.84,416.05 617.11,416.39 617.37,417.22 617.64,417.04 617.90,417.77 618.16,418.25 618.42,418.21 618.69,418.47 618.95,419.11 619.21,419.23 619.47,419.78 619.73,419.87 619.99,420.00 620.25,420.02 620.51,420.91 620.77,421.10 621.02,420.97 621.28,421.64 621.54,421.64 621.80,422.05 622.06,422.14 622.32,422.37 622.58,422.92 622.84,423.37 623.10,423.65 623.36,424.02 623.62,424.35 623.88,424.51 624.14,424.44 624.40,425.09 624.66,425.34 624.92,425.18 625.18,425.38 625.44,426.28 625.70,426.03 625.96,426.79 626.22,427.10 626.48,426.99 626.74,427.32 627.00,427.25 627.26,427.50 627.52,428.28 627.78,428.35 628.04,428.32 628.30,428.48 628.56,428.61 628.82,429.30 629.08,429.15 629.34,429.19 629.60,429.91 629.86,429.73 630.12,429.80 630.38,430.25 630.64,430.28 630.90,430.55 631.16,430.66 631.42,430.87 631.68,430.83 631.94,431.14 632.20,431.61 632.46,431.23 632.72,431.52 632.98,431.69 633.24,431.83 633.50,431.89 633.76,432.23 634.02,432.57 634.28,432.15 634.54,432.48 634.79,432.97 635.05,432.40 635.31,432.99 635.57,432.87 635.82,433.07 636.08,433.33 636.34,433.11 636.60,433.08 636.86,433.59 637.12,433.94 637.38,433.67 637.64,434.12 637.90,433.94 638.17,434.18 638.43,434.29 638.70,434.49 638.97,434.54 639.24,434.70 639.51,434.85 639.78,434.67 640.05,435.25 640.33,435.20 640.60,435.27 640.88,435.51 641.15,435.46 641.43,435.53 641.71,436.15 641.99,435.81 642.26,436.06 642.54,436.38 642.82,436.46 643.10,436.32 643.37,436.60 643.65,437.09 643.92,436.80 644.20,437.20" fill="none" stroke="#3a86e8" stroke-width="1.9" stroke-linejoin="round" stroke-linecap="round" />
<line x1="476.00" y1="408.00" x2="645.30" y2="408.00" stroke="#000" stroke-width="1.5" />
<line x1="503.90" y1="401.50" x2="503.90" y2="406.00" stroke="#ee5a5a" stroke-width="0.7" />
<line x1="502.70" y1="401.50" x2="505.10" y2="401.50" stroke="#ee5a5a" stroke-width="0.7" />
<line x1="502.70" y1="406.00" x2="505.10" y2="406.00" stroke="#ee5a5a" stroke-width="0.7" />
<circle cx="503.90" cy="403.90" r="2.0" fill="#fff" stroke="#ee5a5a" stroke-width="0.8"/>
<circle cx="516.20" cy="371.30" r="2.0" fill="#fff" stroke="#ee5a5a" stroke-width="0.8"/>
<circle cx="537.40" cy="381.60" r="2.0" fill="#fff" stroke="#ee5a5a" stroke-width="0.8"/>
<line x1="567.60" y1="456.60" x2="567.60" y2="465.20" stroke="#ee5a5a" stroke-width="0.7" />
<line x1="566.40" y1="456.60" x2="568.80" y2="456.60" stroke="#ee5a5a" stroke-width="0.7" />
<line x1="566.40" y1="465.20" x2="568.80" y2="465.20" stroke="#ee5a5a" stroke-width="0.7" />
<circle cx="567.60" cy="460.70" r="2.0" fill="#fff" stroke="#ee5a5a" stroke-width="0.8"/>
<line x1="632.60" y1="411.10" x2="632.60" y2="435.90" stroke="#ee5a5a" stroke-width="0.7" />
<line x1="631.40" y1="411.10" x2="633.80" y2="411.10" stroke="#ee5a5a" stroke-width="0.7" />
<line x1="631.40" y1="435.90" x2="633.80" y2="435.90" stroke="#ee5a5a" stroke-width="0.7" />
<circle cx="632.60" cy="423.80" r="2.0" fill="#fff" stroke="#ee5a5a" stroke-width="0.8"/>
<circle cx="503.90" cy="408.40" r="2.0" fill="#fff" stroke="#3a86e8" stroke-width="0.8"/>
<line x1="515.70" y1="440.00" x2="515.70" y2="446.00" stroke="#3a86e8" stroke-width="0.7" />
<line x1="514.50" y1="440.00" x2="516.90" y2="440.00" stroke="#3a86e8" stroke-width="0.7" />
<line x1="514.50" y1="446.00" x2="516.90" y2="446.00" stroke="#3a86e8" stroke-width="0.7" />
<circle cx="515.70" cy="443.10" r="2.0" fill="#fff" stroke="#3a86e8" stroke-width="0.8"/>
<circle cx="537.00" cy="438.30" r="2.0" fill="#fff" stroke="#3a86e8" stroke-width="0.8"/>
<line x1="632.60" y1="380.40" x2="632.60" y2="404.60" stroke="#3a86e8" stroke-width="0.7" />
<line x1="631.40" y1="380.40" x2="633.80" y2="380.40" stroke="#3a86e8" stroke-width="0.7" />
<line x1="631.40" y1="404.60" x2="633.80" y2="404.60" stroke="#3a86e8" stroke-width="0.7" />
<circle cx="632.60" cy="392.40" r="2.0" fill="#fff" stroke="#3a86e8" stroke-width="0.8"/>
<rect x="476.00" y="345.00" width="169.30" height="126.30" fill="none" stroke="#000" stroke-width="1.4"/>
<line x1="473.40" y1="357.50" x2="476.00" y2="357.50" stroke="#000" stroke-width="1" />
<text x="471.80" y="360.50" font-size="9" font-weight="bold" text-anchor="end" fill="#000" >0.4</text>
<line x1="473.40" y1="382.75" x2="476.00" y2="382.75" stroke="#000" stroke-width="1" />
<text x="471.80" y="385.75" font-size="9" font-weight="bold" text-anchor="end" fill="#000" >0.2</text>
<line x1="473.40" y1="408.00" x2="476.00" y2="408.00" stroke="#000" stroke-width="1" />
<text x="471.80" y="411.00" font-size="9" font-weight="bold" text-anchor="end" fill="#000" >0.0</text>
<line x1="473.40" y1="433.25" x2="476.00" y2="433.25" stroke="#000" stroke-width="1" />
<text x="471.80" y="436.25" font-size="9" font-weight="bold" text-anchor="end" fill="#000" >-0.2</text>
<line x1="473.40" y1="458.50" x2="476.00" y2="458.50" stroke="#000" stroke-width="1" />
<text x="471.80" y="461.50" font-size="9" font-weight="bold" text-anchor="end" fill="#000" >-0.4</text>
<line x1="474.50" y1="344.88" x2="476.00" y2="344.88" stroke="#000" stroke-width="0.8" />
<line x1="474.50" y1="370.12" x2="476.00" y2="370.12" stroke="#000" stroke-width="0.8" />
<line x1="474.50" y1="395.38" x2="476.00" y2="395.38" stroke="#000" stroke-width="0.8" />
<line x1="474.50" y1="420.62" x2="476.00" y2="420.62" stroke="#000" stroke-width="0.8" />
<line x1="474.50" y1="445.88" x2="476.00" y2="445.88" stroke="#000" stroke-width="0.8" />
<line x1="474.50" y1="471.12" x2="476.00" y2="471.12" stroke="#000" stroke-width="0.8" />
<line x1="642.70" y1="344.88" x2="645.30" y2="344.88" stroke="#000" stroke-width="1" />
<text x="648.00" y="347.88" font-size="9" font-weight="bold" text-anchor="start" fill="#000" >0.010</text>
<line x1="642.70" y1="376.44" x2="645.30" y2="376.44" stroke="#000" stroke-width="1" />
<text x="648.00" y="379.44" font-size="9" font-weight="bold" text-anchor="start" fill="#000" >0.005</text>
<line x1="642.70" y1="408.00" x2="645.30" y2="408.00" stroke="#000" stroke-width="1" />
<text x="648.00" y="411.00" font-size="9" font-weight="bold" text-anchor="start" fill="#000" >0.000</text>
<line x1="642.70" y1="439.56" x2="645.30" y2="439.56" stroke="#000" stroke-width="1" />
<text x="648.00" y="442.56" font-size="9" font-weight="bold" text-anchor="start" fill="#000" >-0.005</text>
<line x1="642.70" y1="471.12" x2="645.30" y2="471.12" stroke="#000" stroke-width="1" />
<text x="648.00" y="474.12" font-size="9" font-weight="bold" text-anchor="start" fill="#000" >-0.010</text>
<line x1="643.80" y1="360.66" x2="645.30" y2="360.66" stroke="#000" stroke-width="0.8" />
<line x1="643.80" y1="392.22" x2="645.30" y2="392.22" stroke="#000" stroke-width="0.8" />
<line x1="643.80" y1="423.78" x2="645.30" y2="423.78" stroke="#000" stroke-width="0.8" />
<line x1="643.80" y1="455.34" x2="645.30" y2="455.34" stroke="#000" stroke-width="0.8" />
<line x1="475.80" y1="471.30" x2="475.80" y2="473.90" stroke="#000" stroke-width="1" />
<text x="475.80" y="482.20" font-size="9" font-weight="bold" text-anchor="middle" fill="#000" >200</text>
<line x1="503.96" y1="471.30" x2="503.96" y2="473.90" stroke="#000" stroke-width="1" />
<text x="503.96" y="482.20" font-size="9" font-weight="bold" text-anchor="middle" fill="#000" >400</text>
<line x1="532.12" y1="471.30" x2="532.12" y2="473.90" stroke="#000" stroke-width="1" />
<text x="532.12" y="482.20" font-size="9" font-weight="bold" text-anchor="middle" fill="#000" >600</text>
<line x1="560.28" y1="471.30" x2="560.28" y2="473.90" stroke="#000" stroke-width="1" />
<text x="560.28" y="482.20" font-size="9" font-weight="bold" text-anchor="middle" fill="#000" >800</text>
<line x1="588.44" y1="471.30" x2="588.44" y2="473.90" stroke="#000" stroke-width="1" />
<text x="588.44" y="482.20" font-size="9" font-weight="bold" text-anchor="middle" fill="#000" >1000</text>
<line x1="616.60" y1="471.30" x2="616.60" y2="473.90" stroke="#000" stroke-width="1" />
<text x="616.60" y="482.20" font-size="9" font-weight="bold" text-anchor="middle" fill="#000" >1200</text>
<line x1="644.76" y1="471.30" x2="644.76" y2="473.90" stroke="#000" stroke-width="1" />
<text x="644.76" y="482.20" font-size="9" font-weight="bold" text-anchor="middle" fill="#000" >1400</text>
<line x1="489.88" y1="471.30" x2="489.88" y2="472.80" stroke="#000" stroke-width="0.8" />
<line x1="518.04" y1="471.30" x2="518.04" y2="472.80" stroke="#000" stroke-width="0.8" />
<line x1="546.20" y1="471.30" x2="546.20" y2="472.80" stroke="#000" stroke-width="0.8" />
<line x1="574.36" y1="471.30" x2="574.36" y2="472.80" stroke="#000" stroke-width="0.8" />
<line x1="602.52" y1="471.30" x2="602.52" y2="472.80" stroke="#000" stroke-width="0.8" />
<line x1="630.68" y1="471.30" x2="630.68" y2="472.80" stroke="#000" stroke-width="0.8" />
<text x="567.30" y="494.60" font-size="13" font-weight="bold" text-anchor="middle" fill="#000" >Wavelength (nm)</text>
<text transform="translate(455.2,421.0) rotate(-90)" font-size="13.5" font-weight="bold">g<tspan font-size="8.7" dy="2.3">res</tspan></text>
<text transform="translate(681.3,421.0) rotate(-90)" font-size="13.5" font-weight="bold">g<tspan font-size="9" dy="3">CD</tspan></text>
<circle cx="589.3" cy="351.2" r="2.0" fill="#fff" stroke="#ee5a5a" stroke-width="0.8"/>
<circle cx="589.3" cy="359.4" r="2.0" fill="#fff" stroke="#3a86e8" stroke-width="0.8"/>
<text x="595.3" y="353.3" font-size="7.1"><tspan font-style="italic">g</tspan><tspan font-size="4.6" dy="1.5">res</tspan><tspan dy="-1.5">_</tspan><tspan font-style="italic">L</tspan>-Cys-Se</text>
<text x="595.3" y="361.5" font-size="7.1"><tspan font-style="italic">g</tspan><tspan font-size="4.6" dy="1.5">res</tspan><tspan dy="-1.5">_</tspan><tspan font-style="italic">D</tspan>-Cys-Se</text>
<line x1="577.40" y1="454.60" x2="593.50" y2="454.60" stroke="#ee5a5a" stroke-width="1.8" />
<line x1="577.40" y1="462.70" x2="593.50" y2="462.70" stroke="#3a86e8" stroke-width="1.8" />
<text x="596.0" y="455.4" font-size="7.1"><tspan font-style="italic">g</tspan><tspan font-size="4.6" dy="1.5">CD</tspan><tspan dy="-1.5">_</tspan><tspan font-style="italic">L</tspan>-Cys-Se</text>
<text x="596.0" y="462.8" font-size="7.1"><tspan font-style="italic">g</tspan><tspan font-size="4.6" dy="1.5">CD</tspan><tspan dy="-1.5">_</tspan><tspan font-style="italic">D</tspan>-Cys-Se</text>
</svg></body></html>
